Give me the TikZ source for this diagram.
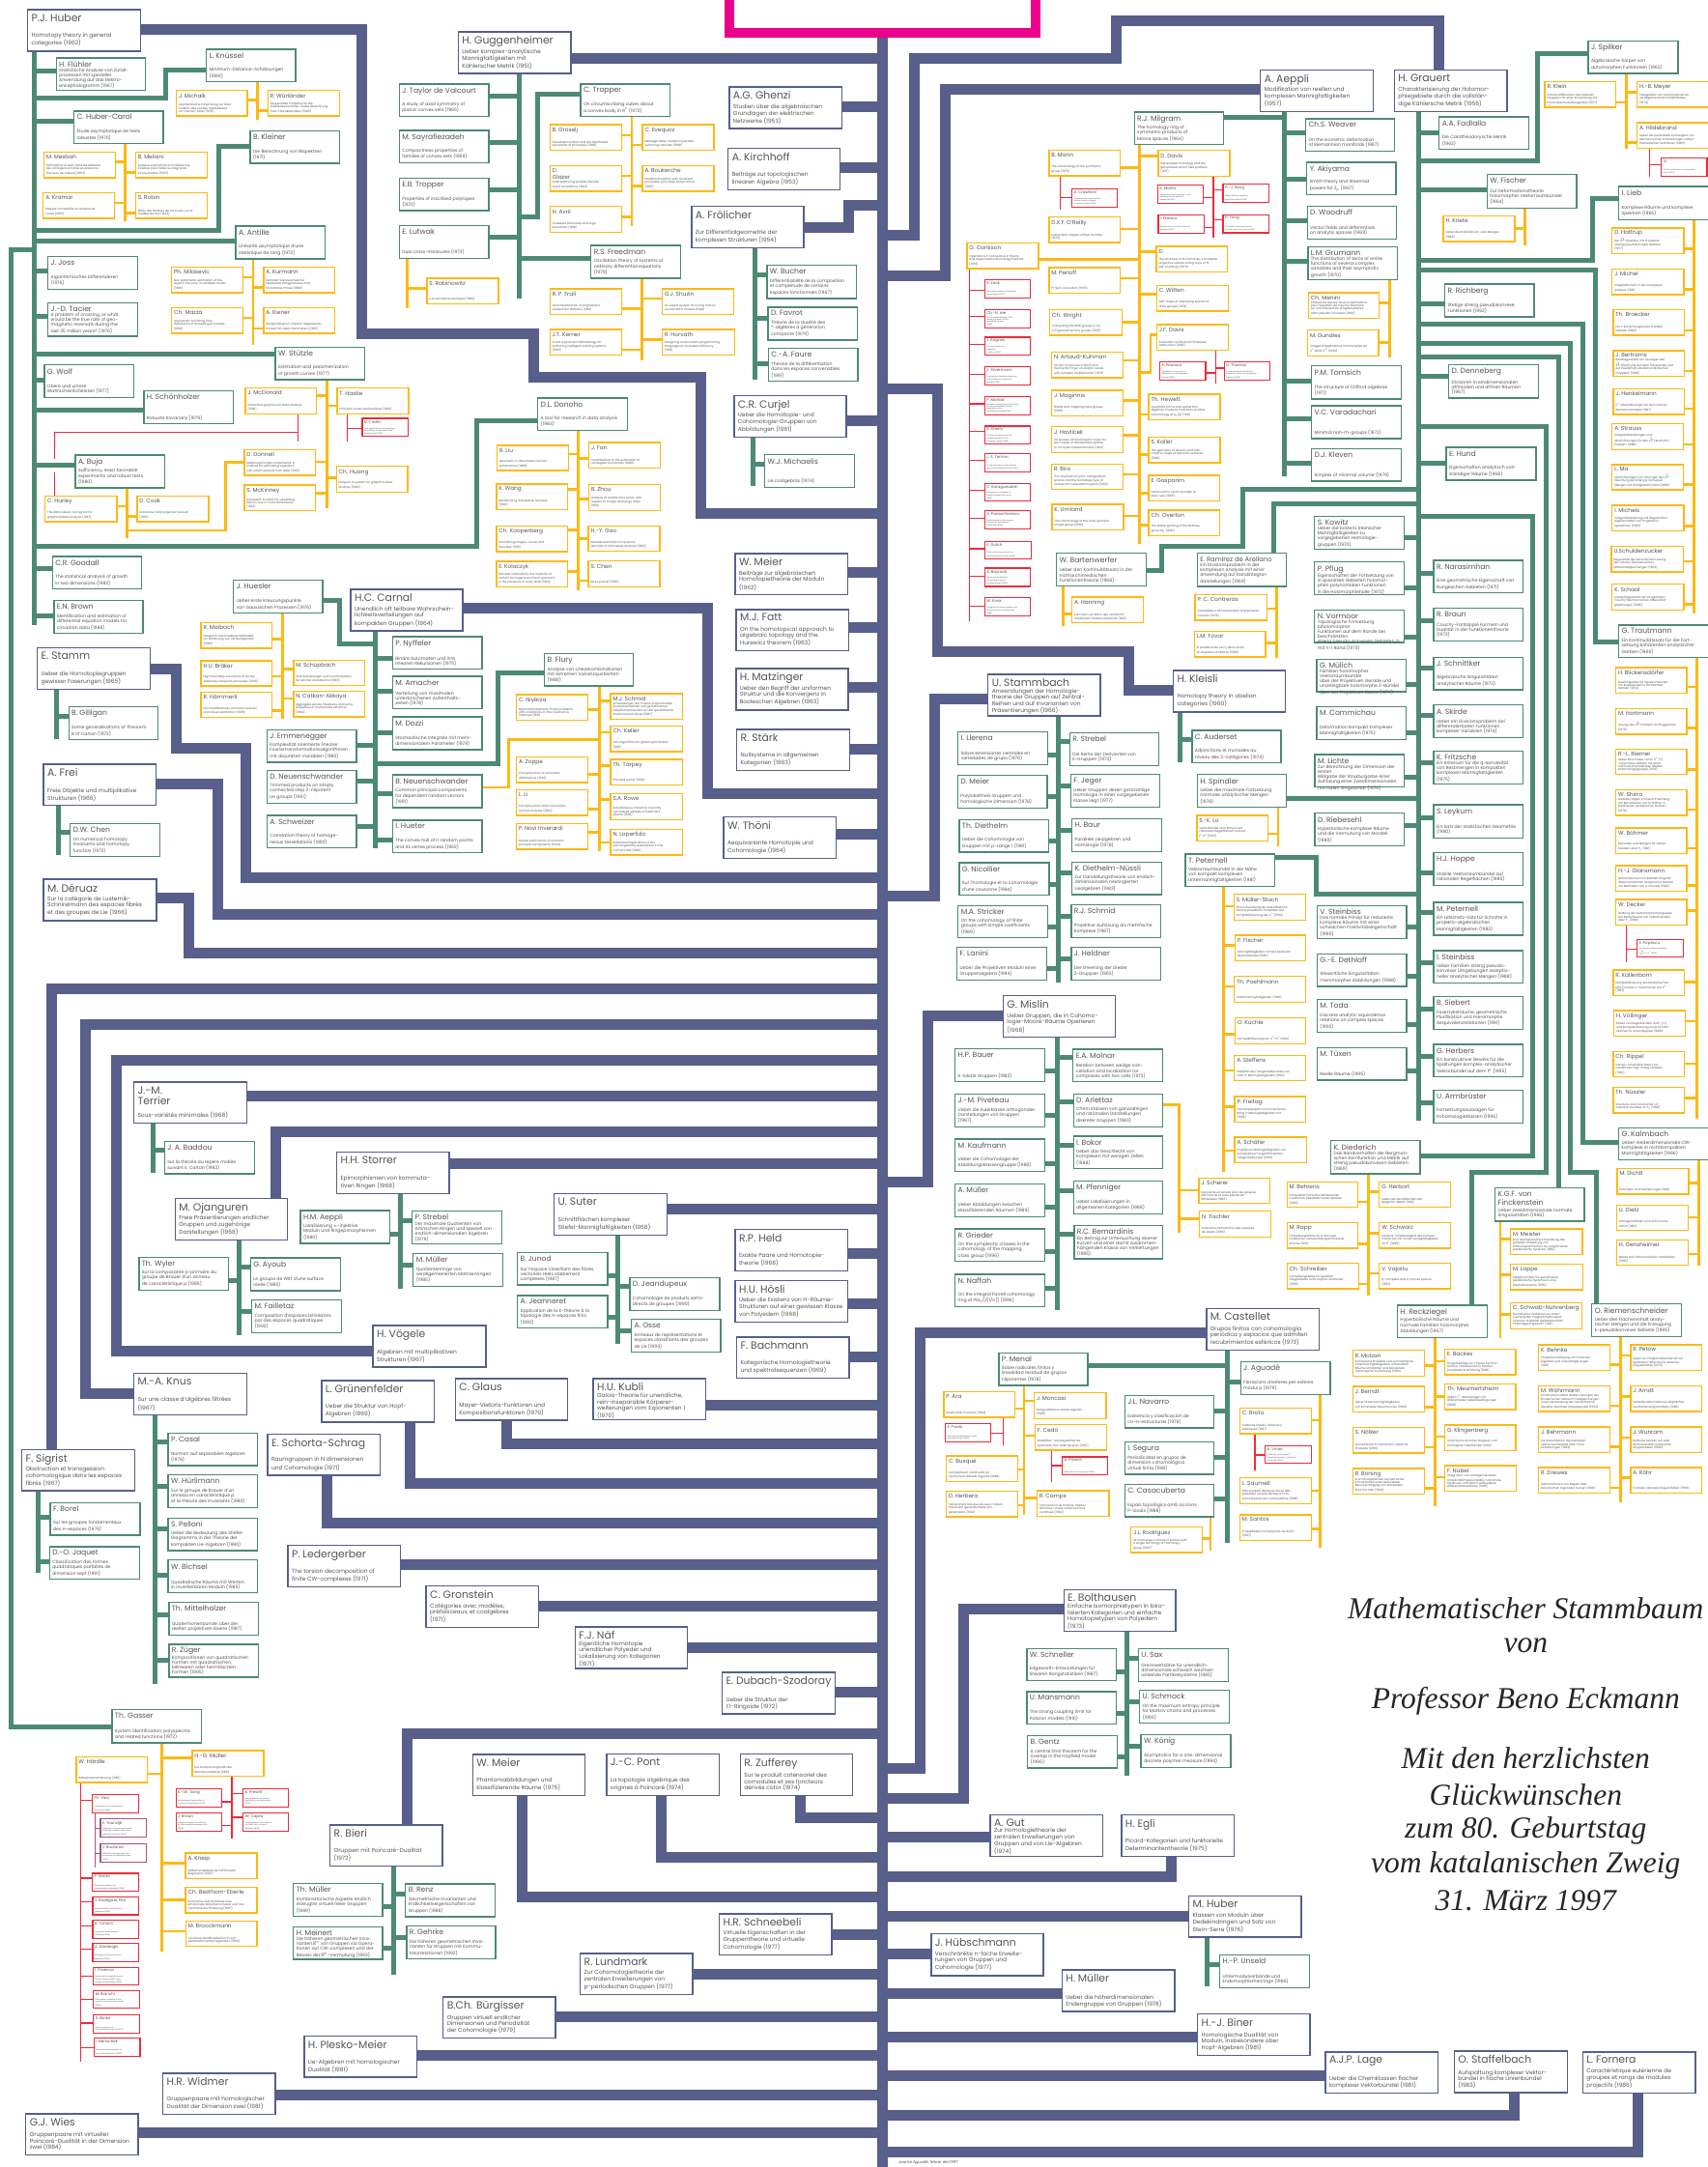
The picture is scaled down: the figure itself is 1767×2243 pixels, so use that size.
\documentclass[tikz,border=0pt]{standalone}
\usepackage{fontspec}
\setmainfont{Poppins}
\newfontfamily\scrf{Liberation Serif}
\usetikzlibrary{backgrounds}
\definecolor{cb}{HTML}{575F8A}
\definecolor{cg}{HTML}{4D8A73}
\definecolor{cy}{HTML}{FDB913}
\definecolor{cr}{HTML}{EE2B3B}
\definecolor{cm}{HTML}{EC008C}
\definecolor{cp}{HTML}{A8567F}
\definecolor{tx}{HTML}{555555}
\tikzset{
 boxbase/.style={rectangle,fill=white,inner sep=0pt,outer sep=0pt,text=tx,align=left},
 bb/.style={boxbase,draw=cb,line width=1.4pt},
 gb/.style={boxbase,draw=cg,line width=1.3pt},
 yb/.style={boxbase,draw=cy,line width=1.4pt},
 rb/.style={boxbase,draw=cr,line width=1.2pt},
 pb/.style={boxbase,draw=cp,line width=1.2pt},
 bl/.style={draw=cb,line width=11pt},
 gl/.style={draw=cg,line width=5pt},
 yl/.style={draw=cy,line width=2.6pt},
 rl/.style={draw=cr,line width=1.2pt},
 pl/.style={draw=cp,line width=1.2pt},
 ml/.style={draw=cm,line width=10.5pt},
 scriptline/.style={text=black!85,font=\scrf\itshape\fontsize{31.5}{34}\selectfont,inner sep=0pt}
}
\newenvironment{cpp}[4]{\begin{scope}[shift={(#1pt,-#2pt)},x=#3pt,y=-#4pt]\def\fx{#3}\def\fy{#4}}{\end{scope}}
\def\XA{.38265}\def\XC{.38074}\def\YA{.36352}\def\YD{.35906}
\newcommand\mk[8]{%
 \pgfmathsetmacro\wbx{(#5-#3)*\fx}%
 \pgfmathsetmacro\hbx{(#6-#4)*\fy}%
 \pgfmathsetmacro\wtx{\wbx-\pad}%
 \pgfmathsetmacro\htx{\hbx-\padv}%
 \node[#1,minimum width=\wbx pt,minimum height=\hbx pt] (#2) at ({(#3+#5)/2},{(#4+#6)/2}) {\begin{minipage}[c][\htx pt][t]{\wtx pt}\tfs\raggedright #7\par\vfill\bfs #8\end{minipage}};}
\newcommand\BX[7]{\def\tfs{\fontsize{10.8}{11.5}\selectfont}\def\bfs{\fontsize{5.9}{6.6}\selectfont}\def\pad{8}\def\padv{9}\mk{bb}{#1}{#2}{#3}{#4}{#5}{#6}{#7}}
\newcommand\GX[7]{\def\tfs{\fontsize{7.6}{8.4}\selectfont}\def\bfs{\fontsize{4.6}{5.1}\selectfont}\def\pad{6}\def\padv{7}\mk{gb}{#1}{#2}{#3}{#4}{#5}{#6}{#7}}
\newcommand\YX[7]{\def\tfs{\fontsize{5.8}{6.5}\selectfont}\def\bfs{\fontsize{3}{3.4}\selectfont}\def\pad{5}\def\padv{6}\mk{yb}{#1}{#2}{#3}{#4}{#5}{#6}{#7}}
\newcommand\RX[7]{\def\tfs{\fontsize{4}{4.6}\selectfont}\def\bfs{\fontsize{1.9}{2.2}\selectfont}\def\pad{4}\def\padv{4}\mk{rb}{#1}{#2}{#3}{#4}{#5}{#6}{#7}}
\newcommand\PX[7]{\def\tfs{\fontsize{4}{4.6}\selectfont}\def\bfs{\fontsize{1.9}{2.2}\selectfont}\def\pad{4}\def\padv{4}\mk{pb}{#1}{#2}{#3}{#4}{#5}{#6}{#7}}
\newcommand\cnn[4]{\draw[#1] (#2 |- 0,#4) -- (#3,#4);}
\newcommand\gc[3]{\cnn{gl}{#1}{#2}{#3}}
\newcommand\yc[3]{\cnn{yl}{#1}{#2}{#3}}
\newcommand\rc[3]{\cnn{rl}{#1}{#2}{#3}}
\newcommand\stm[4]{\draw[#1] (#2,#3) -- (#2,#4);}
\newcommand\trk[2]{\draw[bl] (#1 |- 0,#2) -- (913.4,#2);}
\begin{document}
\begin{tikzpicture}[x=1pt,y=-1pt]
\useasboundingbox (0,0) rectangle (1767,2243);
%%%%%%%%%%%%%%%%%%%%%% BOXES
\begin{cpp}{0}{0}{\XA}{\YA}
\BX{huber}{75}{28}{380}{146}{P.J. Huber}{Homotopy theory in general\\categories (1962)}
\BX{gugg}{1240}{91}{1545}{209}{H. Guggenheimer}{Ueber komplex-analytische\\Mannigfaltigkeiten mit\\Kählerscher Metrik (1951)}
\GX{fluehler}{152}{165}{393}{258}{H. Flühler}{Statistische Analyse von Zufall-\\prozessen mit spezieller\\Anwendung auf das Elektro-\\encephalogramm (1967)}
\GX{knuessel}{558}{140}{800}{233}{L. Knüssel}{Minimum-Distance-Schätzungen\\(1969)}
\GX{hubercarol}{200}{316}{442}{409}{C. Huber-Carol}{Étude asymptotique de tests\\robustes (1970)}
\GX{kleiner}{677}{372}{919}{465}{B. Kleiner}{Die Berechnung von Bispektren\\(1971)}
\GX{antille}{638}{644}{880}{737}{A. Antille}{Linéarité asymptotique d'une\\statistique de rang (1972)}
\GX{joss}{130}{730}{372}{823}{J. Joss}{Algorithmisches Differenzieren\\(1976)}
\GX{tacier}{130}{862}{372}{957}{J.-D. Tacier}{A problem of crossing, or what\\would be the true rate of geo-\\magnetic reversals during the\\last 35 million years? (1976)}
\GX{stuetzle}{745}{988}{986}{1081}{W. Stützle}{Estimation and parametrization\\of growth curves (1977)}
\GX{wolf}{120}{1039}{362}{1131}{G. Wolf}{Obere und untere\\Wahrscheinlichkeiten (1977)}
\GX{schoenh}{389}{1113}{631}{1207}{H. Schönholzer}{Robuste Kovarianz (1979)}
\GX{buja}{204}{1296}{446}{1389}{A. Buja}{Sufficiency, least favorable\\experiments and robust tests\\(1980)}
\GX{taylor}{1080}{239}{1322}{331}{J. Taylor de Valcourt}{A study of axial symmetry of\\planar convex sets (1965)}
\GX{sayraf}{1080}{371}{1322}{463}{M. Sayrafiezadeh}{Compactness properties of\\families of convex sets (1969)}
\GX{etropper}{1080}{507}{1322}{600}{E.B. Tropper}{Properties of inscribed polytopes\\(1972)}
\GX{lutwak}{1080}{642}{1322}{735}{E. Lutwak}{Dual cross-measures (1973)}
\YX{michalk}{477}{258}{669}{330}{J. Michalk}{Asymptotische Entwicklung zur Güte-\\funktion des zweiten Vierteldetest\\von Fischer-Yates (1976)}
\YX{wuerl}{725}{258}{918}{330}{R. Würländer}{Sequentielle Prüfpläne für die\\Zufallsüberkontrolle: Exakte Berechnung\\ihrer Charakteristiken (1989)}
\YX{mesbah}{119}{433}{312}{506}{M. Mesbah}{Estimations et tests dans les tableaux\\de contingence mixtes en présence\\d'erreurs de mesure (1993)}
\YX{meliani}{367}{433}{560}{506}{B. Meliani}{Analyse explicatoire et modèles log-\\linéaires pour l'aide au diagnostic\\en psychiatrie (1993)}
\YX{kramar}{117}{549}{310}{622}{A. Kramar}{Risques compétitifs en analyse de\\survie (1993)}
\YX{robin}{367}{549}{560}{622}{S. Robin}{Effets des facteurs de confusion sur le\\modèle de Cox (1993)}
\YX{milasevic}{464}{760}{657}{833}{Ph. Milasevic}{Non parametric estimation of the\\slope in the error in variables model\\(1986)}
\YX{kurmann}{713}{760}{906}{833}{A. Kurmann}{Zentraler Grenzwertsatz für\\lokalisierte Rangprozesse ohne\\monotones Prinzip (1986)}
\YX{mazza}{464}{876}{657}{949}{Ch. Mazza}{Asymptotic for hitting time\\distribution of annealing processes\\(1990)}
\YX{kiener}{713}{876}{906}{949}{A. Kiener}{Rangschätzer im linearen Regressions-\\modell mit vielen Parametern (1991)}
\YX{mcdonald}{664}{1105}{856}{1178}{J. McDonald}{Interactive graphics for data analysis\\(1982)}
\YX{hastie}{912}{1105}{1105}{1178}{T. Hastie}{Principal curves and surfaces (1984)}
\YX{donnell}{661}{1280}{854}{1353}{D. Donnell}{Additive principle components: A\\method for estimating equations\\with small variance from data (1987)}
\YX{mckinney}{661}{1381}{854}{1454}{S. McKinney}{Autopaint: A toolkit for visualizing\\data in four or more dimensions\\(1993)}
\YX{huang}{910}{1328}{1103}{1401}{Ch. Huang}{Penguin: A system for graphical data\\analysis (1992)}
\YX{hurley}{122}{1412}{316}{1485}{C. Hurley}{The data viewer: A program for\\graphical data analysis (1987)}
\YX{cook}{371}{1412}{564}{1485}{D. Cook}{Grand tour and projection pursuit\\(1993)}
\YX{rabinowitz}{1155}{792}{1348}{865}{S. Rabinowitz}{Convex lattice polytopes (1986)}
\RX{crellin}{980}{1191}{1105}{1243}{N. Crellin}{Tree-based spline and regression\\smoothing: an extended model\\selection tool (1992)}
\YX{liu}{1345}{1268}{1538}{1340}{R. Liu}{Geometry in robustness and non-\\parametrics (1988)}
\YX{wang}{1343}{1378}{1535}{1451}{K. Wang}{Bandlimiting and sparse recovery\\(1990)}
\YX{kooperberg}{1343}{1498}{1536}{1571}{Ch. Kooperberg}{Smoothing images, curves and\\densities (1991)}
\end{cpp}
\begin{cpp}{0}{560}{\XA}{\YA}
\YX{kolaczyk}{1343}{58}{1536}{131}{E. Kolaczyk}{Wavelet methods for the inversion of\\certain homogeneous linear operators\\in the presence of noisy data (1994)}
\GX{goodall}{142}{44}{383}{137}{C.R. Goodall}{The statistical analysis of growth\\in two dimensions (1983)}
\GX{brown}{146}{170}{387}{263}{E.N. Brown}{Identification and estimation of\\differential equation models for\\circadian data (1988)}
\BX{stamm}{101}{304}{406}{422}{E. Stamm}{Ueber die Homotopiegruppen\\gewisser Faserungen (1965)}
\BX{frei}{118}{635}{422}{753}{A. Frei}{Freie Objekte und multiplikative\\Strukturen (1966)}
\BX{deruaz}{118}{963}{423}{1081}{M. Déruaz}{Sur la catégorie de Lusternik-\\Schnirelmann des espaces fibrés\\et des groupes de Lie (1966)}
\GX{gilligan}{186}{472}{428}{566}{B. Gilligan}{Some generalisations of Theorem\\B of Cartan (1972)}
\GX{chen}{190}{804}{432}{898}{D.W. Chen}{On numerical homotopy\\invariants and homotopy\\functors (1972)}
\GX{huesler}{632}{112}{873}{205}{J. Huesler}{Ueber erste Kreuzungspunkte\\von Gaussschen Prozessen (1976)}
\BX{carnal}{949}{138}{1252}{256}{H.C. Carnal}{Unendlich oft teilbare Wahrschein-\\lichkeitsverteilungen auf\\kompakten Gruppen (1964)}
\GX{nyffeler}{1062}{272}{1304}{365}{P. Nyffeler}{Binäre Automaten und ihre\\linearen Rekursionen (1975)}
\GX{amacher}{1062}{385}{1304}{478}{M. Amacher}{Verteilung von maximalen\\unterbrochenen Aufenthalts-\\zeiten (1978)}
\GX{dozzi}{1062}{501}{1304}{594}{M. Dozzi}{Stochastische Integrale mit mehr-\\dimensionalem Parameter (1979)}
\GX{emmenegger}{722}{537}{964}{630}{J. Emmenegger}{Komplexität orientierte linearer\\Fouriertransformationsalgorithmen\\mit disjunkten Variablen (1980)}
\GX{dneuen}{722}{653}{964}{746}{D. Neuenschwander}{Trimmed products on simply\\connected step 2-nilpotent\\Lie groups (1991)}
\GX{schweizer}{722}{781}{964}{874}{A. Schweizer}{Correlation theory of homoge-\\neous tessellations (1992)}
\GX{bneuen}{1062}{666}{1304}{759}{B. Neuenschwander}{Common principal components\\for dependent random vectors\\(1991)}
\GX{hueter}{1062}{795}{1304}{888}{I. Hueter}{The convex hull of n random points\\and its vertex process (1992)}
\YX{maibach}{544}{232}{736}{305}{R. Maibach}{Vergleich verschiedener Methoden\\zur Schätzung von Verlaufsgrenzen\\(1985)}
\YX{braeker}{544}{341}{736}{413}{H.U. Bräker}{High boundary excursions of locally\\stationary Gaussian processes (1993)}
\YX{haemmerli}{544}{430}{736}{502}{R. Hämmerli}{On the differences of local processes\\and robust estimation (1996)}
\YX{schuepbach}{794}{339}{986}{411}{M. Schüpbach}{Grenzverteilungen und Funktionszeiten\\für Minima und Maxima (1986)}
\YX{catkan}{794}{428}{986}{501}{N. Catkan-Akkaya}{Aggregate excess measures and some\\properties of multivariate extremes\\(1994)}
\end{cpp}
\begin{cpp}{0}{1120}{\XA}{\YA}
\BX{terrier}{362}{0}{667}{117}{J.-M.\\Terrier}{Sous-variétés minimales (1968)}
\BX{knus}{362}{830}{667}{948}{M.-A. Knus}{Sur une classe d'algèbres filtrées\\(1967)}
\GX{casal}{455}{999}{697}{1092}{P. Casal}{Normen auf separablen Algebren\\(1979)}
\GX{huerlimann}{455}{1118}{697}{1211}{W. Hürlimann}{Sur le groupe de Brauer d'un\\anneau en caractéristique p\\et la théorie des invariants (1980)}
\GX{pelloni}{455}{1241}{697}{1334}{S. Pelloni}{Ueber die Bedeutung des Stiefel-\\Diagramms in der Theorie der\\kompakten Lie-Algebren (1980)}
\GX{bichsel}{455}{1361}{697}{1454}{W. Bichsel}{Quadratische Räume mit Werten\\in invertierbaren Moduln (1985)}
\GX{mittelholzer}{457}{1481}{699}{1575}{Th. Mittelholzer}{Quaternionenbündel über der\\reellen projektiven Ebene (1987)}
\BX{sigrist}{59}{1047}{364}{1164}{F. Sigrist}{Obstruction et transgession\\cohomologique dans les espaces\\fibrés (1967)}
\GX{borel}{136}{1197}{379}{1290}{F. Borel}{Sur les groupes fondamentaux\\des H-espaces (1976)}
\GX{jaquet}{134}{1323}{377}{1416}{D.-O. Jaquet}{Classification des formes\\quadratiques parfaites de\\dimension sept (1991)}
\GX{baddou}{445}{169}{688}{261}{J. A. Baddou}{Sur la théorie du repère mobile\\suivant E. Cartan (1982)}
\BX{ojanguren}{474}{332}{778}{449}{M. Ojanguren}{Freie Präsentierungen endlicher\\Gruppen und zugehörige\\Darstellungen (1968)}
\GX{wyler}{376}{499}{618}{592}{Th. Wyler}{Sur la composante p-primaire du\\groupe de Brauer d'un anneau\\de caractéristique p (1985)}
\GX{ayoub}{678}{501}{921}{594}{G. Ayoub}{Le groupe de Witt d'une surface\\réelle (1985)}
\GX{failletaz}{681}{620}{923}{713}{M. Failletaz}{Composition d'espaces bilinéaires\\par des espaces quadratiques\\(1992)}
\BX{storrer}{911}{199}{1215}{317}{H.H. Storrer}{Epimorphismen von kommuta-\\tiven Ringen (1968)}
\GX{haeppli}{813}{366}{1055}{459}{H.M. Aeppli}{Lokalisierung $\kappa$-injektive\\Moduln und Ringepimorphismen\\(1980)}
\GX{pstrebel}{1115}{368}{1357}{461}{P. Strebel}{Der maximale Quotienten von\\Artinschen Ringen und speziell von\\endlich-dimensionalen Algebren\\(1979)}
\GX{mmueller}{1118}{488}{1360}{581}{M. Müller}{Quotientenringe von\\verallgemeinerten Matrizenringen\\(1985)}
\BX{voegele}{1009}{693}{1314}{811}{H. Vögele}{Algebren mit multiplikativen\\Strukturen (1967)}
\BX{gruenenfelder}{870}{850}{1174}{968}{L. Grünenfelder}{Ueber die Struktur von Hopf-\\Algebren (1969)}
\BX{glaus}{1232}{845}{1536}{963}{C. Glaus}{Mayer-Vietoris-Funktoren und\\Kompositionsfunktoren (1970)}
\BX{schorta}{724}{1003}{1028}{1120}{E. Schorta-Schrag}{Raumgruppen in N dimensionen\\und Cohomologie (1971)}
\BX{ledergerber}{779}{1319}{1084}{1437}{P. Ledergerber}{The torsion decomposition of\\finite CW-complexes (1971)}
\BX{gronstein}{1153}{1435}{1457}{1553}{C. Gronstein}{Catégories avec modèles,\\préfaisceaux, et coalgèbres\\(1971)}
\end{cpp}
\begin{cpp}{0}{1680}{\XA}{\YD}
\GX{zueger}{457}{61}{699}{156}{R. Züger}{Kompositionen von quadratischen\\Formen mit quadratischen,\\bilinearen oder hermitischen\\Formen (1995)}
\GX{gasser}{303}{250}{544}{345}{Th. Gasser}{System identification, polyspectra\\and related functions (1972)}
\YX{haerdle}{206}{385}{399}{459}{W. Härdle}{Robust Kernschätzung (1982)}
\YX{hgmueller}{520}{368}{713}{442}{H.-G. Müller}{Die Analyse longitudinaler\\Wachstumsdaten (1981)}
\YX{kneip}{502}{663}{695}{737}{A. Kneip}{Selbstmodellierende nichtlineare\\Regression (1987)}
\YX{besthorn}{502}{761}{695}{835}{Ch. Besthorn-Eberle}{Autonome und zentralnervöse\\emotionale Aktivationsmuster und ihre\\mechanische Erfassung (1990)}
\YX{broeckmann}{503}{859}{695}{932}{M. Broockmann}{Local bandwidth selection in non-\\parametric kernel regression (1993)}
\RX{vieu}{249}{495}{374}{547}{Ph. Vieu}{A contribution to nonparametric\\functionals (1989)}
\RX{sarda}{250}{721}{374}{773}{P. Sarda}{Bandwidth selection for\\nonparametric estimation (1989)}
\RX{rodriguezpoo}{251}{789}{375}{841}{J. Rodríguez Poo}{Semiparametric estimation of\\regression (1990)}
\RX{turlach}{251}{857}{375}{909}{B. Turlach}{Computer-aided additive\\modeling (1994)}
\RX{dasdoigis}{251}{924}{375}{976}{A. Dasdoigis}{Changes in the wind-bounce\\detection (1994)}
\RX{proenca}{252}{992}{376}{1044}{I. Proenca}{Testing the link specification in\\binary choice models: large\\sample and bootstrap (1994)}
\RX{bianchi}{253}{1059}{377}{1110}{M. Bianchi}{Time series modelling in the\\presence of structural change\\(1995)}
\RX{klinke}{253}{1130}{377}{1182}{S. Klinke}{Data structures and\\computational analysis (1995)}
\RX{bertschek}{255}{1197}{379}{1249}{I. Bertschek}{Semiparametric analysis of\\innovative behaviour (1995)}
\PX{youndje}{272}{565}{396}{617}{E. Youndjé}{Estimation non paramétrique de\\la densité conditionnelle par la\\méthode du noyau (1993)}
\PX{boularan}{272}{637}{396}{689}{J. Boularan}{Estimation de régression, des\\moyennes non paramétriques\\(1993)}
\RX{kssong}{476}{478}{600}{530}{K.-Sh. Song}{Nonparametric estimation of\\curves and boundaries (1993)}
\RX{pfewitt}{658}{478}{781}{530}{K. Prewitt}{Nonparametric stochastic\\regression curve estimation\\(1990)}
\RX{jbraun}{476}{547}{600}{600}{J. Braun}{Multiple changepoint methods\\for DNA sequence segmentation\\(1996)}
\RX{capra}{658}{547}{781}{600}{W. Capra}{Nonparametric estimation of\\mortality from curves of\\densities (1993)}
\BX{bieri}{893}{582}{1197}{700}{R. Bieri}{Gruppen mit Poincaré-Dualität\\(1972)}
\GX{tmueller}{794}{751}{1035}{845}{Th. Müller}{Kombinatorische Aspekte endlich\\erzeugter virtuell freier Gruppen\\(1989)}
\GX{renz}{1097}{752}{1339}{847}{B. Renz}{Geometrische Invarianten und\\Endlichkeitseigenschaften von\\Gruppen (1988)}
\GX{meinert}{794}{875}{1035}{969}{H. Meinert}{Die höheren geometrischen Inva-\\rianten Σ\textsuperscript{m} von Gruppen via Opera-\\tionen auf CW-complexen und der\\Beweis der Σ\textsuperscript{m}-Vermutung (1993)}
\GX{gehrke}{1100}{874}{1341}{968}{R. Gehrke}{Die höheren geometrischen Inva-\\rianten für Gruppen mit Kommu-\\tatorrelationen (1992)}
\BX{bmeier}{1279}{379}{1583}{497}{W. Meier}{Phantomabbildungen und\\klassifizierende Räume (1975)}
\BX{buergisser}{1199}{1078}{1503}{1196}{B.Ch. Bürgisser}{Gruppen virtuell endlicher\\Dimensionen und Periodizität\\der Cohomologie (1979)}
\BX{plesko}{823}{1191}{1127}{1309}{H. Plesko-Meier}{Lie-Algebren mit homologischer\\Dualität (1981)}
\BX{widmer}{441}{1298}{745}{1416}{H.R. Widmer}{Gruppenpaare mit homologischer\\Dualität der Dimension zwei (1981)}
\BX{wies}{70}{1415}{374}{1533}{G.J. Wies}{Gruppenpaare mit virtueller\\Poincaré-Dualität in der Dimension\\zwei (1984)}
\end{cpp}
\begin{cpp}{590}{0}{\XA}{\YA}
\BX{ghenzi}{431}{248}{735}{366}{A.G. Ghenzi}{Studien über die algebraischen\\Grundlagen der elektrischen\\Netzwerke (1953)}
\BX{kirchhoff}{428}{422}{731}{540}{A. Kirchhoff}{Beiträge zur topologischen\\linearen Algebra (1953)}
\BX{froelicher}{329}{587}{632}{705}{A. Frölicher}{Zur Differentialgeometrie der\\komplexen Strukturen (1954)}
\BX{curjel}{444}{1126}{747}{1244}{C.R. Curjel}{Ueber die Homotopie- und\\Cohomologie-Gruppen von\\Abbildungen (1961)}
\GX{bucher}{533}{756}{775}{850}{W. Bucher}{Différentiabilité de la composition\\et complétude de certains\\espaces fonctionnels (1967)}
\GX{favrot}{536}{875}{778}{968}{D. Favrot}{Théorie de la dualité des\\{}*-algèbres à génération\\compacte (1979)}
\GX{faure}{537}{992}{779}{1085}{C.-A. Faure}{Théorie de la différentiation\\dans les espaces convenables\\(1991)}
\GX{michaelis}{527}{1295}{769}{1388}{W.J. Michaelis}{Lie coalgebras (1974)}
\GX{tropper}{29}{239}{271}{332}{C. Tropper}{On circumscribing cubes about\\a convex body in R\textsuperscript{n} (1972)}
\GX{freedman}{57}{699}{299}{792}{R.S. Freedman}{Oscillation theory of systems of\\ordinary differential equations\\(1979)}
\YX{grosejl}{-54}{355}{140}{428}{B. Groselj}{Pseudostimulation and the distributed\\simulation of processes (1988)}
\YX{glazer}{-54}{472}{140}{545}{D.\\Glazer}{Load balancing parallel discrete\\event simulations (1993)}
\YX{avril}{-54}{588}{140}{661}{H. Avril}{Clustered time warp and logic\\simulation (1996)}
\YX{evequoz}{196}{355}{389}{428}{C. Evequoz}{Message delay models of parallel\\switching networks (1989)}
\YX{boukerche}{196}{472}{389}{545}{A. Boukerche}{Parallel simulation with clustered\\processes: principles and practice\\(1995)}
\YX{frail}{-54}{822}{140}{895}{R. P. Frail}{Text classification in fragmented\\subdomain domains (1991)}
\YX{shuzin}{250}{822}{443}{895}{G.J. Shuzin}{An expert system for tuning macro-\\econometric models (1988)}
\YX{kerner}{-54}{938}{140}{1011}{J.T. Kerner}{A tool supported methodology for\\authoring intelligent tutoring systems\\(1993)}
\YX{horvath}{250}{938}{445}{1011}{R. Horvath}{Designing a concurrent programming\\language for increased efficiency\\(1991)}
\GX{donoho}{-87}{1133}{155}{1225}{D.L. Donoho}{A tool for research in data analysis\\(1983)}
\YX{fan}{51}{1260}{244}{1333}{J. Fan}{Contributions to the estimation of\\nonregular functionals (1989)}
\YX{zhou}{51}{1380}{244}{1453}{B. Zhou}{Analysis of volatile time series, with\\respect to foreign exchange rates\\(1991)}
\YX{gao}{50}{1497}{243}{1570}{H.-Y. Gao}{Wavelet estimation of spectral\\densities in time series analysis (1993)}
\YX{carlsson}{1074}{692}{1267}{765}{G. Carlsson}{Operations in connective K-theory\\and associated cohomology theories\\(1976)}
\YX{mann}{1296}{428}{1489}{501}{B. Mann}{The cohomology of the symmetric\\group (1975)}
\YX{oreilly}{1296}{618}{1489}{691}{D.X.F. O'Reilly}{Cobordism classes of fiber bundles\\(1976)}
\YX{perloff}{1296}{762}{1489}{835}{M. Perloff}{Pi-Spin cobordism (1976)}
\YX{wright}{1298}{882}{1493}{955}{Ch. Wright}{Computing the Wall groups Ln for\\2-hyperelementary groups (1979)}
\YX{artaud}{1303}{1003}{1496}{1076}{N. Artaud-Kuhman}{On the conjecture of Birch and\\Swinnerton-Dyer on elliptic curves\\with complex multiplication (1979)}
\YX{maginnis}{1303}{1111}{1496}{1184}{J. Maginnis}{Braids and mapping class groups\\(1986)}
\YX{havlicek}{1303}{1215}{1496}{1288}{J. Havlicek}{On spaces of holomorphic maps for\\two copies of the Riemann sphere\\to complex Grassmannians (1992)}
\YX{biro}{1303}{1321}{1496}{1394}{R. Biro}{The structure of cyclic configuration\\spaces and the homotopy type of\\Kontsevich's orientation space (1994)}
\YX{umland}{1304}{1436}{1497}{1509}{K. Umland}{The cohomology of the Lions sporadic\\simple group (1996)}
\RX{crawford}{1358}{537}{1481}{589}{A. Crawford}{Characteristic maps and the\\Steinitz class in complex\\projective spaces (1993)}
\RX{zack}{1122}{797}{1245}{848}{R. Zack}{Homotopy analysis of stochastic\\technologies (1977)}
\RX{lee}{1122}{882}{1245}{933}{Ch.-N. Lee}{On the stable splitting of the\\classifying space of the\\symplectic groups\\(1989)}
\RX{rognes}{1122}{960}{1245}{1012}{J. Rognes}{The rank filtration in\\algebraic\\K-theory (1990)}
\RX{silvermann}{1122}{1045}{1245}{1097}{J. Silvermann}{Conjugates of certain subgroups\\acting freely on products of\\spheres (1991)}
\RX{morlad}{1122}{1129}{1245}{1181}{P. Morlad}{Bounded cohomology of the braid\\group and the Milnor-Wood\\inequality for the\\Heisenberg manifold (1991)}
\RX{sherry}{1122}{1213}{1245}{1265}{R. Sherry}{A study of invariants for the\\classifying space of the\\symmetric group (1992)}
\RX{tanton}{1122}{1292}{1245}{1343}{J. S. Tanton}{On the homotopy of generalized\\groups and Grassmannians (1993)}
\RX{karagueuzian}{1122}{1376}{1245}{1427}{D. Karagueuzian}{Homology of complexes of\\algebraic graph structures\\(1993)}
\RX{paraschivescu}{1122}{1454}{1245}{1505}{A. Paraschivescu}{Finite handles for the second\\fixed group with integral\\coefficients (1996)}
\end{cpp}
\begin{cpp}{590}{560}{\XA}{\YA}
\YX{schen}{50}{57}{243}{130}{S. Chen}{Basis pursuit (1995)}
\GX{flury}{-69}{320}{172}{413}{B. Flury}{Analyse von Linearkombinationen\\mit extremen Varianzquotienten\\(1980)}
\YX{niyikiza}{-145}{437}{48}{510}{C. Niyikiza}{Multivariate Behrens-Fisher problems\\with constraints on the covariance\\matrices (1991)}
\YX{zoppe}{-145}{615}{48}{688}{A. Zoppe}{Principal points of univariate\\distributions (1992)}
\YX{lli}{-145}{708}{48}{781}{L. Li}{Principal points and multivariate\\normal mixtures (1994)}
\YX{novi}{-145}{804}{48}{877}{P. Novi Inverardi}{Robust estimations of common\\principal components (1994)}
\YX{schmid}{110}{435}{304}{508}{M.J. Schmid}{Anwendungen der Theorie proportionaler\\Kovarianzmatrizen und gemeinsamer\\Hauptkomponenten auf die quadratische\\Diskriminanzanalyse (1987)}
\YX{keller}{110}{527}{304}{600}{Ch. Keller}{Two algorithms for global optimization\\(1991)}
\YX{tarpey}{110}{622}{304}{695}{Th. Tarpey}{Principal points (1992)}
\YX{rowe}{110}{720}{304}{793}{S.A. Rowe}{Simultaneous inference on jointly\\considered subsets of treatment\\effects (1993)}
\YX{loperfido}{110}{821}{304}{894}{N. Loperfido}{Inferential implications of the\\exchangeability assumption in the\\normal case (1996)}
\BX{wmeier}{447}{36}{751}{153}{W. Meier}{Beiträge zur algebraischen\\Homotopietheorie der Moduln\\(1962)}
\BX{fatt}{450}{195}{754}{312}{M.J. Fatt}{On the homotopical approach to\\algebraic topology and the\\Hurewicz theorem (1963)}
\BX{matzinger}{449}{363}{753}{481}{H. Matzinger}{Ueber den Begriff der uniformen\\Struktur und die Konvergenz in\\Booleschen Algebren (1963)}
\BX{staerk}{451}{536}{756}{654}{R. Stärk}{Nullsysteme in allgemeinen\\Kategorien (1963)}
\BX{thoeni}{416}{785}{720}{903}{W. Thöni}{Aequivariante Homotopie und\\Cohomologie (1964)}
\BX{stammbach}{1131}{380}{1435}{498}{U. Stammbach}{Anwendungen der Homologie-\\theorie der Gruppen auf Zentral-\\Reihen und auf Invarianten von\\Präsentierungen (1966)}
\BX{mislin}{1172}{1295}{1476}{1413}{G. Mislin}{Ueber Gruppen, die in Cohomo-\\logie-Moore-Räume Operieren\\(1968)}
\GX{llerena}{1050}{544}{1293}{636}{I. Llerena}{Sobre extensiones centrales en\\variedades de grupo (1976)}
\GX{dmeier}{1049}{667}{1291}{760}{D. Meier}{Polylokaltheis Gruppen und\\homologische Dimension (1978)}
\GX{diethelm}{1053}{793}{1295}{886}{Th. Diethelm}{Ueber die Cohomologie von\\Gruppen mit p-Länge 1 (1981)}
\GX{nicollier}{1053}{916}{1296}{1009}{G. Nicollier}{Sur l'homologie et la cohomologie\\d'une couronne (1984)}
\GX{stricker}{1050}{1038}{1293}{1130}{M.A. Stricker}{On the cohomology of finite\\groups with simple coefficients\\(1989)}
\GX{lanini}{1047}{1157}{1289}{1250}{F. Lanini}{Ueber die Projektiven Moduln einer\\Gruppenalgebra (1994)}
\GX{strebel}{1352}{546}{1593}{639}{R. Strebel}{Die Reihe der Derivierten von\\E-Gruppen (1973)}
\GX{jeger}{1355}{665}{1596}{758}{F. Jeger}{Ueber Gruppen deren ganzzahlige\\Homologie in einer vorgegebenen\\Klasse liegt (1977)}
\GX{baur}{1358}{791}{1600}{884}{H. Baur}{Parallele Liealgebren und\\Homologie (1978)}
\GX{dnuessli}{1358}{914}{1600}{1007}{K. Diethelm-Nüssli}{Zur Darstellungstheorie von endlich-\\dimensionalen nestinglerten\\Liealgebren (1983)}
\GX{schmidb}{1356}{1036}{1598}{1129}{R.J. Schmid}{Projektive Auflösung als mehrfache\\Komplexe (1987)}
\GX{heldner}{1356}{1157}{1598}{1250}{J. Heldner}{Der Greening der Dieder\\2-Gruppen (1993)}
\GX{bartenwerfer}{1316}{35}{1558}{128}{W. Bartenwerfer}{Ueber den Kontinuitätssatz in der\\nichtarchimedischen\\Funktionentheorie (1968)}
\YX{hanning}{1358}{160}{1551}{233}{A. Hanning}{Zum Satz von Bär in der nichtarchi-\\medischen Funktionentheorie (1981)}
\RX{dutch}{1122}{1}{1247}{51}{K. Dutch}{Relative homotopy theory, an\\equivariant point of view (1994)}
\RX{bayrooti}{1122}{77}{1245}{129}{A. Bayrooti}{Ideals and quotients of\\cohomology rings of\\solvable groups (1996)}
\RX{kook}{1122}{162}{1245}{214}{W. Kook}{Categories of acyclic graphs and\\automorphisms of free groups\\(1996)}
\GX{bauer}{1042}{1446}{1285}{1540}{H.P. Bauer}{K-lokale Gruppen (1982)}
\GX{molnar}{1361}{1447}{1603}{1540}{E.A. Molnar}{Relation between wedge can-\\cellation and localization for\\complexes with two cells (1972)}
\end{cpp}
\begin{cpp}{590}{1120}{\XA}{\YA}
\BX{suter}{-43}{318}{262}{436}{U. Suter}{Schnittflächen komplexer\\Stiefel-Mannigfaltigkeiten (1968)}
\GX{junod}{-142}{485}{102}{578}{B. Junod}{Sur l'espace classifiant des fibrés\\vectoriels réels stablement\\complexes (1987)}
\GX{jeanneret}{-142}{608}{102}{701}{A. Jeanneret}{Application de la K-théorie à la\\topologie des H-espaces finis\\(1992)}
\GX{jeandupeux}{162}{557}{405}{650}{D. Jeandupeux}{Cohomologie de produits semi-\\directs de groupes (1990)}
\GX{osse}{166}{676}{408}{769}{A. Osse}{Anneaux de représentations et\\espaces classifiants des groupes\\de Lie (1994)}
\BX{held}{447}{420}{751}{538}{R.P. Held}{Exakte Paare und Homotopie-\\theorie (1968)}
\BX{hoesli}{447}{566}{751}{684}{H.U. Hösli}{Ueber die Existenz von H-Räume-\\Strukturen auf einer gewissen Klasse\\von Polyedern (1968)}
\BX{bachmann}{451}{726}{755}{843}{F. Bachmann}{Kategorische Homologietheorie\\und spektralsequenzen (1969)}
\BX{kubli}{63}{845}{367}{962}{H.U. Kubli}{Galois-Theorie für unendliche,\\rein-inseparable Körperer-\\weiterungen vom Exponenten 1\\(1970)}
\GX{menal}{1160}{771}{1401}{864}{P. Menal}{Sobre radicales finitos y\\linealidad residual de grupos\\nilpotentes (1978)}
\YX{ara}{1011}{882}{1204}{955}{P. Ara}{Anells amb involució (1984)}
\YX{moncasi}{1256}{885}{1450}{958}{J. Moncasi}{Rang estable en anells regulars\\(1985)}
\YX{cedo}{1258}{975}{1451}{1048}{F. Cedó}{Estabilitat i rectangularitat de\\quocients d'un anell de grup (1987)}
\YX{busque}{1018}{1065}{1211}{1138}{C. Busqué}{Completitud i continuïtat en\\l'estructura d'anells regulars (1988)}
\YX{camps}{1264}{1164}{1458}{1237}{R. Camps}{Cancel·lació de mòduls: Mòduls\\artinians i anells sobre funcions\\contínues (1992)}
\YX{herbera}{1018}{1165}{1211}{1238}{D. Herbera}{Sobre anells tals que els seus mòduls\\finitament generats fidels són\\generadors (1992)}
\RX{pardo}{1016}{973}{1139}{1024}{E. Pardo}{Monoides de refinament i anells\\de dimensió zero (1995)}
\RX{pitarch}{1332}{1067}{1455}{1118}{A. Pitarch}{Anells de funcions enteres (1996)}
\BX{bolthausen}{1336}{1445}{1639}{1563}{E. Bolthausen}{Einfache Isomorphietypen in loka-\\lisierten Kategorien und einfache\\Homotopietypen von Polyedern\\(1973)}
\GX{piveteau}{1042}{34}{1285}{127}{J.-M. Piveteau}{Ueber die Eulerklasse orthogonaler\\Darstellungen von Gruppen\\(1987)}
\GX{kaufmann}{1042}{162}{1285}{255}{M. Kaufmann}{Ueber die Cohomologie der\\Abbildungsklassengruppe (1988)}
\GX{amueller}{1042}{290}{1285}{383}{A. Müller}{Ueber Abbildungen zwischen\\klassifizierenden Räumen (1989)}
\GX{grieder}{1042}{418}{1285}{511}{R. Grieder}{On the symplectic classes in the\\cohomology of the mapping\\class group (1996)}
\GX{naffah}{1042}{547}{1285}{640}{N. Naffah}{On the integral Farrell cohomology\\ring of PSL\textsubscript{2}(Z[1/n]) (1996)}
\GX{arlettaz}{1362}{34}{1604}{127}{D. Arlettaz}{Chern Klassen von ganzzahligen\\und rationalen Darstellungen\\diskreter Gruppen (1983)}
\GX{bokor}{1362}{154}{1604}{247}{I. Bokor}{Ueber das Geschlecht von\\Komplexen mit wenigen Zellen\\(1988)}
\GX{pfenniger}{1362}{282}{1604}{375}{M. Pfenniger}{Ueber Lokalisierungen in\\allgemeinen Kategorien (1988)}
\GX{bernardinis}{1364}{409}{1604}{503}{R.C. Bernardinis}{Ein Beitrag zur Untersuchung ebener\\Kurven und einer damit zusammen-\\hängenden Klasse von Verkettungen\\(1995)}
\end{cpp}
\begin{cpp}{590}{1680}{\XA}{\YD}
\BX{naef}{14}{11}{318}{131}{F.J. Näf}{Eigentliche Homotopie\\unendlicher Polyeder und\\Lokalisierung von Kategorien\\(1971)}
\BX{dubach}{412}{142}{717}{262}{E. Dubach-Szodoray}{Ueber die Struktur der\\$\Omega$-Ringoide (1972)}
\BX{pont}{99}{378}{403}{497}{J.-C. Pont}{La topologie algébrique des\\origines à Poincaré (1974)}
\BX{zufferey}{461}{378}{765}{497}{R. Zufferey}{Sur le produit cotensoriel des\\comodules et ses foncteurs\\dérivés cotor (1974)}
\BX{schneebeli}{404}{838}{708}{957}{H.R. Schneebeli}{Virtuelle Eigenschaften in der\\Gruppentheorie und virtuelle\\Cohomologie (1977)}
\BX{lundmark}{28}{952}{332}{1071}{R. Lundmark}{Zur Cohomologietheorie der\\zentralen Erweiterungen von\\p-periodischen Gruppen (1977)}
\BX{gut}{1137}{552}{1441}{672}{A. Gut}{Zur Homologietheorie der\\zentralen Erweiterungen von\\Gruppen und von Lie-Algebren\\(1974)}
\BX{huebschmann}{977}{896}{1281}{1016}{J. Hübschmann}{Verschränkte n-fache Erweite-\\rungen von Gruppen und\\Cohomologie (1977)}
\BX{hmueller}{1331}{1000}{1636}{1120}{H. Müller}{Ueber die höherdimensionalen\\Endengruppe von Gruppen (1978)}
\GX{schneller}{1236}{73}{1478}{166}{W. Schneller}{Edgeworth-Entwicklungen für\\linearen Rangstatistiken (1987)}
\GX{mansmann}{1236}{198}{1478}{291}{U. Mansmann}{The strong coupling limit for\\Polaron models (1991)}
\GX{gentz}{1238}{324}{1480}{418}{B. Gentz}{A central limit theorem for the\\overlap in the Hopfield model\\(1996)}
\node[text=tx,font=\fontsize{4}{4.5}\selectfont,inner sep=0pt,anchor=west] (jaume) at (888,1555) {Jaume Aguadé, febrer del 1997};
\end{cpp}
\begin{cpp}{1170}{0}{\XC}{\YA}
\BX{aeppli}{354}{199}{660}{317}{A. Aeppli}{Modifikation von reellen und\\komplexen Mannigfaltigkeiten\\(1957)}
\BX{grauert}{718}{199}{1024}{317}{H. Grauert}{Charakterisierung der Holomor-\\phiegebiete durch die vollstän-\\dige Kählersche Metrik (1956)}
\GX{milgram}{11}{319}{254}{412}{R.J. Milgram}{The homology ring of\\symmetric products of\\Moore spaces (1964)}
\GX{weaver}{477}{338}{719}{430}{Ch.S. Weaver}{On the isometric deformation\\of Riemannian manifolds (1967)}
\GX{akiyama}{480}{462}{722}{554}{Y. Akiyama}{Smith theory and Steenrod\\powers for Z\textsubscript{p} (1967)}
\GX{woodruff}{481}{587}{724}{680}{D. Woodruff}{Vector fields and differentials\\on analytic spaces (1969)}
\GX{grumann}{483}{703}{726}{796}{L.M. Grumann}{The distribution of zeros of entire\\functions of several complex\\variables and their asymptotic\\growth (1970)}
\GX{tomsich}{493}{1042}{736}{1136}{P.M. Tomsich}{The structure of Clifford algebras\\(1971)}
\GX{varadachari}{493}{1155}{736}{1249}{V.C. Varadachari}{Minimal non-m-groups (1972)}
\GX{kleven}{493}{1277}{737}{1370}{D.J. Kleven}{Simplex of minimal volume (1979)}
\YX{menini}{484}{833}{677}{906}{Ch. Menini}{Classes de Gevrey-Roux et estimations\\pour l'équation du Cauchy-Riemann\\sur une intersection d'hypersurfaces\\ment pseudo-convexes (1996)}
\YX{ondies}{482}{940}{675}{1013}{M. Oundies}{Images d'applications holomorphes de\\C\textsuperscript{n} dans C\textsuperscript{m} (1996)}
\YX{davis}{76}{428}{270}{502}{D. Davis}{Generalized homology and the\\generalized vector field problem\\(1971)}
\YX{dd}{71}{702}{264}{775}{D.}{The structure of PL homotopy complexes\\projective spaces and groups of PL\\self-knottings (1975)}
\YX{witten}{72}{813}{266}{886}{C. Witten}{Self-maps of classifying spaces of\\finite groups (1978)}
\YX{jfdavis}{72}{924}{266}{997}{J.F. Davis}{Evaluation of the Swan finiteness\\obstruction (1982)}
\YX{hewett}{50}{1122}{244}{1195}{Th. Hewett}{Quadratic forms and quaternion\\algebras, modular invariants and the\\cohomology of S\textsubscript{n}(q) (1991)}
\YX{kallel}{50}{1245}{244}{1318}{S. Kallel}{The geometry of divisors and holo-\\morphic maps of Riemann surfaces\\(1994)}
\YX{gasparim}{50}{1353}{243}{1426}{E. Gasparim}{Holomorphic vector bundles on\\blow-ups (1995)}
\YX{overton}{50}{1452}{243}{1525}{Ch. Overton}{The stable splitting of the Mathieu\\group M\textsubscript{11} (1996)}
\RX{morita}{75}{526}{199}{578}{K. Morita}{Adjunctions and homology in the\\Eilenberg-Moore spectral\\sequence (1995)}
\RX{song}{252}{525}{376}{577}{H.-J. Song}{Stiefel-Whitney classes of\\projective spaces (1995)}
\RX{karaca}{76}{612}{200}{664}{I. Karaca}{Nilpotence in the Cech-Steenrod\\algebra (1996)}
\RX{yang}{252}{611}{377}{663}{H. Yang}{The stable homotopy types of\\stunted projective spaces (1996)}
\RX{pearson}{81}{1031}{205}{1083}{K. Pearson}{Algebraic K-theory of two-\\dimensional crystallographic\\groups (1995)}
\RX{thomas}{255}{1031}{380}{1083}{O. Thomas}{A cohomological invariant for\\hyperbolic forms over quaternion\\algebras (1996)}
\GX{fadlalla}{840}{333}{1083}{425}{A.A. Fadlalla}{Die Carathéodorysche Metrik\\(1962)}
\GX{spilker}{1245}{116}{1489}{209}{J. Spilker}{Algebraische Körper von\\automorphen Funktionen (1962)}
\GX{fischer}{970}{497}{1213}{592}{W. Fischer}{Zur Deformationstheorie\\holomorpher Vektorraumbündel\\(1964)}
\GX{lieb}{1328}{531}{1572}{625}{I. Lieb}{Komplexe Räume und komplexe\\Spektren (1965)}
\GX{richberg}{855}{809}{1098}{902}{R. Richberg}{Stetige streng pseudokonvexe\\Funktionen (1962)}
\GX{denneberg}{866}{1039}{1109}{1133}{D. Denneberg}{Divisoren in eindimensionalen\\affinoiden und affinen Räumen\\(1967)}
\GX{hund}{859}{1274}{1103}{1367}{E. Hund}{Eigenschaften analytisch voll-\\ständiger Räume (1968)}
\GX{kowitz}{501}{1470}{745}{1563}{S. Kowitz}{Ueber die Existenz Steinscher\\Mannigfaltigkeiten zu\\vorgegebenen Homologie-\\gruppen (1970)}
\YX{klein}{1127}{232}{1320}{305}{R. Klein}{Eine Anzahlfunktion bei diskreten\\Gruppen mit einer Anwendung auf\\Poincaresche Reihengarben (1977)}
\YX{hbmeyer}{1378}{232}{1572}{305}{H.-B. Meyer}{Passgrößen von Automorphismen\\verallgemeinerter Einheitsbasler\\(1974)}
\YX{hildebrand}{1378}{349}{1572}{422}{A. Hildebrand}{Ueber die punktweise Konvergenz von\\Riemann'schen Entwicklungen zahlen-\\theoretischer Funktionen (1983)}
\RX{gred}{1444}{449}{1568}{501}{G.}{On the coefficients of automorphic\\forms (1997)}
\YX{kriete}{851}{615}{1045}{688}{H. Kriete}{Ueber die Stabilität von Julia Mengen\\(1989)}
\YX{hattrup}{1310}{649}{1505}{722}{D. Hattrup}{Der $\bar\partial$-Operator mit Produkten\\streng pseudokonvexer Gebiete\\(1977)}
\YX{jmichel}{1310}{766}{1505}{839}{J. Michel}{Integralformeln in der komplexen\\Analysis (1981)}
\YX{broecker}{1313}{882}{1507}{955}{Th. Broecker}{Zur L-Kohomologie beschränkter\\Gebiete (1982)}
\YX{bertrams}{1313}{998}{1507}{1072}{J. Bertrams}{Randregularität von Lösungen der\\$\bar\partial$-Gleichung auf dem Polyzylinder und\\auf zweidimensionalen analytischen\\Polyedern (1986)}
\YX{henkelmann}{1313}{1107}{1507}{1180}{J. Henkelmann}{C\textsuperscript{k}-Abschätzungen für den Cauchy-\\Riemann Komplex (1987)}
\YX{strauss}{1310}{1207}{1504}{1280}{A. Strauss}{Integraldarstellungen und\\Abschätzungen für das $\bar\partial$-Neumann-\\Problem (1988)}
\YX{lma}{1310}{1323}{1504}{1395}{L. Ma}{Abschätzungen von Lösungen der $\bar\partial$-\\Gleichung auf streng q-konvexen\\Mengen mit nichtglattem Rand (1989)}
\YX{imichels}{1310}{1439}{1505}{1511}{I. Michels}{Integraldarstellung und Regularitäts-\\eigenschaften von Projektions-\\operatoren (1990)}
\end{cpp}
\begin{cpp}{1170}{560}{\XC}{\YA}
\YX{schulden}{1308}{15}{1503}{88}{U.Schuldenzucker}{Regularität der kanonischen Lösung\\der Cauchy-Riemannschen\\Differentialgleichungen (1993)}
\YX{schaal}{1310}{123}{1505}{196}{K. Schaal}{Lokale Regularität der tangentialen\\Cauchy-Riemannschen Differential-\\gleichungen (1996)}
\GX{ramirez}{182}{35}{424}{129}{\fontsize{6.8}{7.6}\selectfont E. Ramírez de Arellano}{Ein Divisionsproblem in der\\komplexen Analysis mit einer\\Anwendung auf Randintegral-\\darstellungen (1969)}
\YX{contreras}{176}{152}{371}{225}{P. C. Contreras}{Variedades tridimensionales simplemente\\conexas (1979)}
\YX{tovar}{174}{257}{368}{330}{L.M. Tovar}{El problema de Levi y de la unión\\en espacios analíticos (1985)}
\BX{kleisli}{117}{369}{421}{487}{H. Kleisli}{Homotopy theory in abelian\\categories (1960)}
\GX{auderset}{168}{539}{410}{632}{C. Auderset}{Adjonctions et monades au\\niveau des 2-catégories (1974)}
\GX{spindler}{182}{665}{424}{758}{H. Spindler}{Ueber die maximale Fortsetzung\\normaler analytischer Mengen\\(1978)}
\YX{lo}{181}{781}{375}{854}{S.-K. Lo}{Vektorbündel vom Rang 2 auf\\rationalen Regelflächen und auf\\P\textsuperscript{1}×P\textsuperscript{1} (1995)}
\GX{peternell}{150}{891}{393}{984}{T. Peternell}{Vektorraumbündel in der Nähe\\von kompakt komplexen\\Untermannigfaltigkeiten (1981)}
\YX{muellerstach}{282}{1006}{476}{1079}{S. Müller-Stach}{Eine Anwendung der Klassifikations-\\theorie projektiver Varietäten auf\\Kompaktifizierung des C\textsuperscript{n} (1990)}
\YX{pfischer}{285}{1122}{477}{1195}{P. Fischer}{Mannigfaltigkeiten mit fast positivem\\Normalbündel (1990)}
\YX{poehlmann}{283}{1240}{476}{1313}{Th. Poehlmann}{Untermannigfaltigkeiten (1990)}
\YX{kuechle}{285}{1358}{477}{1431}{O. Küchle}{Kompaktifizierung von C\textsuperscript{2}×C\textsuperscript{1} (1992)}
\YX{steffens}{283}{1464}{477}{1537}{A. Steffens}{Stabilität des Tangentialbündels von\\Fano 3-Mannigfaltigkeiten (1995)}
\GX{pflug}{501}{60}{744}{153}{P. Pflug}{Eigenschaften der Fortsetzung von\\in speziellen Gebieten holomor-\\phen polynomialen Funktionen\\in die Holomorphiehülle (1972)}
\GX{vormoor}{501}{196}{744}{289}{N. Vormoor}{Topologische Fortsetzung biholomorpher\\Funktionen auf dem Rande bei beschränkten\\streng pseudo-konvexen Gebieten in\\mit n>1 Rand (1973)}
\GX{muelich}{507}{336}{750}{429}{G. Mülich}{Familien holomorpher Vektorraumbündel\\über der Projektiven Gerade und\\unzerlegbare holomorphe 2-Bündel\\über der Projektiven Ebene (1974)}
\GX{commichau}{507}{472}{750}{565}{M. Commichau}{Deformation kompakt komplexer\\Mannigfaltigkeiten (1975)}
\GX{lichte}{502}{608}{745}{701}{M. Lichte}{Zur Berechnung der Dimension der ersten\\Bildgabe der Strukturgarbe einer\\Auflösung einer Zweidimensionalen\\normalen Singularität (1976)}
\GX{riebesehl}{502}{775}{745}{868}{D. Riebesehl}{Hyperbolische komplexe Räume\\und die Vermutung von Mordell\\(1980)}
\GX{vsteinbiss}{508}{1038}{751}{1131}{V. Steinbiss}{Das formale Prinzip für reduzierte\\komplexe Räume mit einer\\schwachen Positivitätseigenschaft\\(1985)}
\GX{dethloff}{508}{1175}{751}{1268}{G.-E. Dethloff}{Wesentliche Singularitäten\\meromorpher Abbildungen (1988)}
\GX{toda}{508}{1306}{751}{1399}{M. Toda}{Discrete analytic equivalence\\relations on complex spaces\\(1992)}
\GX{tuexen}{508}{1442}{751}{1535}{M. Tüxen}{Reelle Räume (1996)}
\GX{narasimhan}{825}{55}{1068}{148}{R. Narasimhan}{Eine geometrische Eigenschaft von\\Rungeschen Gebieten (1971)}
\GX{braun}{825}{191}{1068}{284}{R. Braun}{Cauchy-Fantappiè Formeln und\\Dualität in der Funktionentheorie\\(1972)}
\GX{schnittker}{825}{331}{1068}{424}{J. Schnittker}{Algebraische Singularitäten\\analytischer Räume (1973)}
\GX{skirde}{825}{467}{1068}{560}{A. Skirde}{Ueber ein Divisionsproblem bei\\differenzierbaren Funktionen\\komplexer Variablen (1974)}
\GX{fritzsche}{825}{598}{1068}{691}{K. Fritzsche}{Ein Kriterium für die q-konvexität\\von Restmengen in kompakten\\komplexen Mannigfaltigkeiten\\(1975)}
\GX{leykum}{825}{751}{1068}{845}{S. Leykum}{Ein Satz der statistischen Geometrie\\(1980)}
\GX{hoppe}{825}{888}{1068}{981}{H.J. Hoppe}{Stabile Vektorraumbündel auf\\rationalen Regelflächen (1980)}
\GX{mpeternell}{825}{1029}{1068}{1122}{M. Peternell}{Ein Lefschetz-Satz für Schnitte in\\projektiv-algebraischen\\Mannigfaltigkeiten (1983)}
\GX{isteinbiss}{825}{1166}{1068}{1259}{I. Steinbiss}{Ueber Familien streng pseudo-\\konvexer Umgebungen exzeptio-\\neller analytischer Mengen (1988)}
\GX{siebert}{825}{1297}{1068}{1390}{B. Siebert}{Faserzykelräume, geometrische\\Plurifikation und meromorphe\\Aequivalenzrelationen (1991)}
\GX{herbers}{825}{1433}{1068}{1526}{G. Herbers}{Ein konstruktiver Beweis für die\\Spaltungen komplex-analytischer\\Vektorbündel auf dem P\textsuperscript{1} (1995)}
\GX{trautmann}{1328}{239}{1572}{332}{G. Trautmann}{Ein Kontinuitätssatz für die Fort-\\setzung kohärenten analytischer\\Garben (1966)}
\YX{blickensdoerfer}{1320}{360}{1513}{433}{H. Blickensdörfer}{Dualitätssätze für Hyperfunktionen\\mit Koeffizienten in kohärenten\\Garben (1974)}
\YX{hortmann}{1320}{477}{1513}{550}{M. Hortmann}{Lösung des $\bar\partial$-Problem für Ringgebiete\\(1976)}
\YX{riemer}{1320}{592}{1513}{665}{R.-L. Riemer}{Ueber eine Klasse von in C\textsuperscript{n} (?)\\-lokal freien Garben mit einer\\nichtverschwindenden lokalen\\Kohomologiegruppe (1976)}
\YX{shirra}{1320}{708}{1513}{781}{W. Shirra}{Globale Fragen im Zusammenhang\\mit Bemolanten von Schnitten in\\kohärenten analytischen Garben\\(1978)}
\YX{boehmer}{1320}{817}{1513}{890}{W. Böhmer}{Monaden und Mutigen für Vektor-\\bündeln über P\textsubscript{2} (1981)}
\YX{glansmann}{1320}{924}{1513}{997}{H.-J. Glansmann}{Deformationen von kollaten Singular-\\itäten kohärenter analytischer Garben\\mit Methoden von A. Douady (1982)}
\YX{decker}{1320}{1021}{1513}{1094}{W. Decker}{Wirkung der Automorphismengruppe\\auf Modulräume von Vektorbündeln\\über P\textsubscript{3} (1986)}
\RX{popescu}{1378}{1135}{1503}{1185}{S. Popescu}{On smooth surfaces of degree\\${\geq}$11 in P\textsuperscript{4} (1996)}
\YX{kallenborn}{1313}{1221}{1507}{1294}{R. Kallenborn}{Kompaktifizierung des Modulraumes\\M(0,2) ersten 2-Instantonen auf S\textsuperscript{4}\\(1987)}
\YX{voellinger}{1315}{1337}{1509}{1410}{H. Völlinger}{Modul von Kegelbündeln auf P\textsubscript{2}(C)\\und Kompaktifizierung eines Schnitt-\\raumes für einen Beispiel (1988)}
\YX{rippel}{1313}{1453}{1507}{1526}{Ch. Rippel}{Generic initial ideal theory for\\coordinate rings of flag varieties\\(1992)}
\end{cpp}
\begin{cpp}{1170}{1120}{\XC}{\YA}
\YX{freitag}{284}{41}{477}{114}{P. Freitag}{Homotopieoptik von Immersionen\\Rang 3-Mannigfaltigkeiten mit\\(1996)}
\YX{schaefer}{284}{157}{479}{230}{A. Schäfer}{Projektiven Mannigfaltigkeiten mit\\semipositivem logarithmischen\\Tangentialbündel (1996)}
\GX{armbruester}{825}{23}{1068}{116}{U. Armbrüster}{Fortsetzungsaussagen für\\Kohomologieklassen (1996)}
\YX{nuessler}{1313}{15}{1507}{88}{Th. Nüssler}{Structure and construction of\\instanton bundles on P\textsubscript{3} (1996)}
\GX{kalmbach}{1328}{130}{1572}{222}{G. Kalmbach}{Ueber niederdimensionale CW-\\komplexe in nichtkompakten\\Mannigfaltigkeiten (1966)}
\YX{dichtl}{1324}{246}{1518}{319}{M. Dichtl}{Schnitzen und Verklebungen (1981)}
\YX{dietz}{1322}{350}{1516}{423}{U. Dietz}{Orthogonalitäten und Orthomodu-\\larität (1982)}
\YX{gensheimer}{1322}{449}{1516}{522}{H. Gensheimer}{Maxse auf orthomodularen Verbänden\\(1983)}
\GX{diederich}{545}{167}{788}{261}{K. Diederich}{Das Randverhalten der Bergman-\\schen Kernfunktion und Metrik auf\\streng pseudokonvexen Gebieten\\(1969)}
\YX{behrens}{426}{284}{619}{357}{M. Behrens}{Plurisubharmonische definierende\\Funktionen pseudokonvexer Gebiete\\(1983)}
\YX{herbort}{677}{284}{870}{357}{G. Herbort}{Ueber die Geodätischen der\\Bergman-Metrik (1981)}
\YX{rapp}{426}{400}{619}{473}{M. Rapp}{Fortsetzungssätze für q-konvexe\\Funktionen und positive geschlossene\\Ströme (1991)}
\YX{schwarz}{677}{400}{870}{473}{W. Schwarz}{Lokale q-Vollständigkeit des Komple-\\ments von CR-Untermannigfaltigkeiten\\im P\textsuperscript{n} (1989)}
\YX{schreiber}{426}{516}{621}{589}{Ch. Schreiber}{Fortsetzungssätze für quadrat-\\integrierbare holomorphe Funktionen\\(1995)}
\YX{vajaitu}{677}{516}{870}{589}{V. Vajaitu}{q-complete and q-convex spaces\\(1993)}
\GX{finckenstein}{992}{302}{1234}{396}{K.G.F. von\\Finckenstein}{Ueber zweidimensionale normale\\Singularitäten (1966)}
\YX{meister}{1034}{418}{1229}{491}{M. Meister}{Eine asymptotische Entwicklung des\\globalen Einbettung von\\Differenzenschemen für Quasilinearen\\parabolische Systeme (1986)}
\YX{lappe}{1034}{518}{1230}{591}{M. Lappe}{Adaptive Gitter für quasilineare\\parabolische Systeme in einer\\Raumdimension (1990)}
\YX{schwab}{1034}{629}{1228}{702}{C. Schwab-Nührenberg}{Numerische Verfahren zur Unter-\\suchung der magnetohydrodyna-\\mischen Stabilität stellaratorsmän\\Plasmagleichgewicht (1991)}
\GX{reckziegel}{726}{635}{970}{727}{H. Reckziegel}{Hyperbolische Räume und\\normale Familien holomorpher\\Abbildungen (1967)}
\YX{molzan}{605}{764}{800}{837}{R. Molzan}{Extrinsische Produkte und symmetrische\\Untermannigfaltigkeiten in Standard-\\Räume konstanter und konstanter\\holomorpher Krümmung (1983)}
\YX{backes}{855}{761}{1048}{834}{E. Backes}{Einige Beiträge zur Theorie symme-\\trischer Immersionen in Räume\\konstanter Krümmung (1983)}
\YX{berndt}{605}{866}{800}{939}{J. Berndt}{Ueber Untermannigfaltigkeiten\\von komplexen Raumformen (1989)}
\YX{meumertz}{855}{859}{1048}{932}{Th. Meumertzheim}{Ueber C\textsuperscript{k}-Abbildungen mit\\differentiellen Nebenbedingungen\\(1989)}
\YX{noelker}{605}{983}{800}{1056}{S. Nölker}{Isometrische Immersionen verzerrter\\Produkte (1990)}
\YX{klingenberg}{855}{976}{1048}{1049}{G. Klingenberg}{Orbiträume Lie'scher Gruppen und\\homogene Faserbündel (1990)}
\YX{boening}{605}{1100}{800}{1173}{R. Böning}{Krümmungsflächen isometrischer\\Immersionen unter besonderer\\Berücksichtigung von komplexen\\Raumformen (1994)}
\YX{nuebel}{855}{1092}{1050}{1165}{F. Nübel}{Integration von verallgemeinerten\\Umbilicität(hyperumbilik), horizontale\\Strukturen und damit verbundene\\Differentialausdrücke (1995)}
\GX{riemensch}{1255}{632}{1498}{725}{O. Riemenschneider}{Ueber den Flächeninhalt analy-\\tischer Mengen und die Erzeugung\\k-pseudokonvexer Gebiete (1965)}
\YX{behnke}{1110}{748}{1304}{821}{K. Behnke}{Projektive Auflösung von Poincaré-\\Algebren und Ooeverlagerungen\\(1981)}
\YX{petow}{1360}{748}{1554}{821}{R. Petow}{Ueber ein Projektivitätskriterium für\\Moishezon-Räume mit isolierten\\Singularitäten (1979)}
\YX{woehrmann}{1110}{865}{1304}{938}{M. Wöhrmann}{Konstruktion selbst dualer Lösungen der\\Einsteinschen Vakuum-Feldgleichungen\\unter Verwendung der Twistortheorie\\Aspekte rationaler Doppelpunkte (1994)}
\YX{arndt}{1360}{865}{1554}{938}{J. Arndt}{Verteilte Deformationen elliptischer\\Quotientensingularitäten (1988)}
\YX{behrmann}{1110}{982}{1304}{1055}{J. Behrmann}{Zur Klassifikation äquivarianter\\Vektorraumbündel über Torus\\einbettungen (1994)}
\YX{wunram}{1360}{982}{1554}{1055}{J. Wunram}{Reflexive Moduln auf zwei-\\dimensionalen Quotienten\\singularitäten (1986)}
\YX{drewes}{1110}{1098}{1304}{1171}{R. Drewes}{Deformationen von Kegeln über\\kanonischen trigonalen Kurven (1996)}
\YX{roehr}{1360}{1098}{1554}{1171}{A. Röhr}{Formale rationale Singularitäten (1996)}
\BX{castellet}{207}{645}{513}{763}{M. Castellet}{Grupos finitos con cohomología\\periódica y espacios que admiten\\recubrimientos esféricos (1973)}
\GX{aguade}{300}{796}{544}{889}{J. Aguadé}{Fibracions d'esferes per esferes\\mòdul p (1979)}
\GX{navarro}{-15}{892}{228}{985}{J.L. Navarro}{Existencia y clasificación de\\co-H-estructuras (1979)}
\GX{segura}{-15}{1024}{228}{1117}{I. Segura}{Periodicidad en grupos de\\dimensión cohomológica\\virtual finita (1981)}
\GX{casacuberta}{-15}{1145}{228}{1238}{C. Casacuberta}{Espais topològics amb accions\\P-locals (1988)}
\YX{rodriguez}{2}{1267}{195}{1340}{J.L. Rodríguez}{On homotopy colimits of spaces with\\a single homology or homotopy\\group (1997)}
\YX{broto}{298}{928}{493}{1001}{C. Broto}{Cadenes lineals i fibracions\\esfèriques (1987)}
\YX{saumell}{298}{1127}{493}{1200}{L. Saumell}{Sobre espais de llaços lliures dels\\possibles i espais de llaços finits\\homotòpicament commutatius (1988)}
\YX{msantos}{298}{1232}{493}{1305}{M. Santos}{Propiedades homotópicas de D(d,t)\\(1997)}
\RX{viruel}{367}{1035}{492}{1086}{A. Viruel}{Homotopy uniqueness of\\classifying spaces of compact\\Lie groups (1996)}
\YX{scherer}{186}{273}{380}{346}{J. Scherer}{Exposants universels pour les groupes\\Gamma de la suite exacte de\\Whitehead (1996)}
\YX{tischler}{188}{368}{382}{441}{N. Tischler}{Invariants de Postnikov des espaces\\de lacets (1996)}
\end{cpp}
\begin{cpp}{1170}{1680}{\XC}{\YD}
\BX{egli}{-24}{553}{283}{672}{H. Egli}{Picard-Kategorien und funktorielle\\Determinantentheorie (1975)}
\GX{sax}{22}{74}{266}{168}{U. Sax}{Grenzwertsätze für unendlich-\\dimensionale schwach wechsel-\\wirkende Partikelsysteme (1985)}
\GX{schmock}{25}{194}{269}{289}{U. Schmock}{On the maximum entropy principle\\for Markov chains and processes\\(1990)}
\GX{koenig}{29}{322}{273}{416}{W. König}{Asymptotics for a one-dimensional\\discrete polymer measure (1994)}
\BX{mhuber}{159}{786}{465}{905}{M. Huber}{Klassen von Moduln über\\Dedekindringen und Satz von\\Stein-Serre (1976)}
\GX{unseld}{243}{957}{487}{1051}{H.-P. Unseld}{Untermodulverbände und\\Endomorphismenringe (1986)}
\BX{biner}{183}{1127}{489}{1246}{H.-J. Biner}{Homologische Dualität von\\Moduln, insbesondere über\\Hopf-Algebren (1981)}
\BX{lage}{531}{1236}{837}{1355}{A.J.P. Lage}{Ueber die Chernklassen flacher\\komplexer Vektorbündel (1981)}
\BX{staffelbach}{881}{1234}{1188}{1353}{O. Staffelbach}{Aufspaltung komplexer Vektor-\\bündel in flache Linienbündel\\(1983)}
\BX{fornera}{1230}{1236}{1536}{1355}{L. Fornera}{Caractéristique eulérienne de\\groupes et rangs de modules\\projectifs (1986)}
\node[scriptline] (s1) at (1075,-42) {Mathematischer Stammbaum};
\node[scriptline] (s2) at (1075,65) {von};
\node[scriptline] (s3) at (1075,225) {Professor Beno Eckmann};
\node[scriptline] (s4) at (1075,390) {Mit den herzlichsten};
\node[scriptline] (s5) at (1075,495) {Glückwünschen};
\node[scriptline] (s6) at (1075,598) {zum 80. Geburtstag};
\node[scriptline] (s7) at (1075,700) {vom katalanischen Zweig};
\node[scriptline] (s8) at (1075,800) {31. März 1997};
\end{cpp}
%%%%%%%%%%%%%%%%%%%%%% CONNECTORS
\begin{scope}[on background layer]
\fill[white] (0,0) rectangle (1767,2243);
% blue, global pixel coordinates
\coordinate (root) at (913.4,35);
\draw[bl] (root) -- (913.4,2243);
\draw[ml] (755,0) -- (755,34) -- (1072,34) -- (1072,0);
\draw[bl] (huber.east |- 0,30) -- (374,30) -- (374,345.7) -- (552,345.7) -- (552,390) -- (725.9,390) -- (725.9,531.8) -- (913.4,531.8);
\trk{gugg.east}{60}
\trk{ghenzi.east}{110.5}
\trk{kirchhoff.east}{173.4}
\draw[bl] (froelicher.east |- 0,235.2) -- (878.6,235.2) -- (878.6,212.3) -- (913.4,212.3);
\trk{curjel.east}{435.8}
\trk{wmeier.east}{592}
\trk{fatt.east}{649.4}
\trk{matzinger.east}{711.9}
\trk{staerk.east}{775.6}
\trk{thoeni.east}{863.5}
\draw[bl] (carnal.east |- 0,629.4) -- (732.4,629.4) -- (732.4,821.4) -- (913.4,821.4);
\draw[bl] (stamm.east |- 0,692.3) -- (182.9,692.3) -- (182.9,774.5) -- (254.9,774.5) -- (254.9,908.2) -- (913.4,908.2);
\draw[bl] (frei.east |- 0,811.5) -- (225.4,811.5) -- (225.4,946.8) -- (913.4,946.8);
\draw[bl] (deruaz.east |- 0,929) -- (195.6,929) -- (195.6,986) -- (913.4,986);
\draw[bl] (913.4,1023.5) -- (53.6,1023.5) -- (53.6,0 |- sigrist.north);
\draw[bl] (913.4,1060.2) -- (88,1060.2) -- (88,1442.8) -- (knus.west |- 0,1442.8);
\draw[bl] (913.4,1097.3) -- (120.9,1097.3) -- (120.9,1398.1) -- (voegele.west |- 0,1398.1);
\trk{terrier.east}{1134.5}
\draw[bl] (913.4,1171.3) -- (285.5,1171.3) -- (285.5,0 |- ojanguren.north);
\trk{storrer.east}{1204.7}
\trk{suter.east}{1251.2}
\trk{held.east}{1297.4}
\trk{hoesli.east}{1349}
\trk{bachmann.east}{1404.6}
\trk{kubli.east}{1454.4}
\draw[bl] (913.4,1494.4) -- (524.3,1494.4) -- (524.3,0 |- glaus.south);
\draw[bl] (913.4,1535.5) -- (424.8,1535.5) -- (424.8,0 |- gruenenfelder.south);
\draw[bl] (913.4,1576.2) -- (338.7,1576.2) -- (338.7,0 |- schorta.south);
\trk{ledergerber.east}{1619.1}
\trk{gronstein.east}{1662}
\trk{naef.east}{1705.5}
\trk{dubach.east}{1751.8}
\draw[bl] (913.4,1794.9) -- (421,1794.9) -- (421,0 |- bieri.north);
\draw[bl] (913.4,1963) -- (540.7,1963) -- (540.7,0 |- bmeier.south);
\draw[bl] (913.4,1922.4) -- (684.5,1922.4) -- (684.5,0 |- pont.south);
\draw[bl] (913.4,1881.1) -- (828.8,1881.1) -- (828.8,0 |- zufferey.south);
\trk{schneebeli.east}{2002.1}
\trk{lundmark.east}{2043.4}
\trk{buergisser.east}{2087.6}
\trk{plesko.east}{2127.8}
\trk{widmer.east}{2168.4}
\trk{wies.east}{2207.2}
% blue, right side
\draw[bl] (913.4,243.5) -- (946.7,243.5) -- (946.7,60) -- (1155.6,60) -- (1155.6,21.8) -- (1489,21.8) -- (1489,0 |- grauert.north);
\draw[bl] (913.4,285.4) -- (978.4,285.4) -- (978.4,92.7) -- (aeppli.west |- 0,92.7);
\draw[bl] (913.4,402.8) -- (970,402.8) -- (970,674.5) -- (1168.6,674.5) -- (1168.6,714.5) -- (kleisli.west |- 0,714.5);
\draw[bl] (913.4,927.1) -- (967,927.1) -- (967,723.6) -- (stammbach.west |- 0,723.6);
\draw[bl] (913.4,1223.6) -- (960.5,1223.6) -- (960.5,1051.5) -- (mislin.west |- 0,1051.5);
\draw[bl] (913.4,1830.1) -- (952.4,1830.1) -- (952.4,1379.9) -- (castellet.west |- 0,1379.9);
\draw[bl] (913.4,1861.3) -- (997.6,1861.3) -- (997.6,1665.3) -- (bolthausen.west |- 0,1665.3);
\trk{gut.west}{1901.9}
\draw[bl] (913.4,1942.5) -- (1212.6,1942.5) -- (1212.6,0 |- egli.south);
\trk{mhuber.west}{1983.4}
\trk{huebschmann.west}{2022.9}
\trk{hmueller.west}{2063.5}
\trk{biner.west}{2108.4}
\trk{lage.west}{2148.6}
\draw[bl] (913.4,2189.2) -- (1567.8,2189.2) -- (1567.8,0 |- staffelbach.south);
\draw[bl] (913.4,2227.6) -- (1695.4,2227.6) -- (1695.4,0 |- fornera.south);
% green, global
\draw[gl] (35.2,53) -- (35.2,647);
\draw[gl] (35.2,258.8) -- (11.5,258.8) -- (11.5,1787) -- (gasser.west |- 0,1787);
\draw[gl] (537.3,76) -- (537.3,309);
\draw[gl] (537.3,224.3) -- (556.8,224.3) -- (556.8,97.4) -- (tropper.west |- 0,97.4);
\draw[gl] (537.3,267.2) -- (freedman.west |- 0,267.2);
\draw[gl] (1468.5,115) -- (1468.5,1160);
\draw[gl] (1468.5,166.5) -- (1591.4,166.5) -- (1591.4,55.6) -- (spilker.west |- 0,55.6);
\draw[gl] (1468.5,269) -- (1648.9,269) -- (1648.9,205.4) -- (lieb.west |- 0,205.4);
\draw[gl] (1468.5,279.9) -- (1651.6,279.9) -- (1651.6,664.7) -- (trautmann.west |- 0,664.7);
\draw[gl] (1468.5,335.1) -- (1638.3,335.1) -- (1638.3,1182.5) -- (kalmbach.west |- 0,1182.5);
\draw[gl] (1468.5,355.5) -- (1625.7,355.5) -- (1625.7,1213.8) -- (1652.7,1213.8) -- (1652.7,0 |- riemensch.north);
\draw[gl] (1468.5,369) -- (1613.5,369) -- (1613.5,0 |- finckenstein.north);
\draw[gl] (1468.5,441.7) -- (1600.2,441.7) -- (1600.2,1213.8) -- (1523.3,1213.8) -- (1523.3,0 |- reckziegel.north);
\draw[gl] (1468.5,534.3) -- (1586.9,534.3) -- (1586.9,1196.3) -- (diederich.east |- 0,1196.3);
\draw[gl] (1468.5,506) -- (1286.9,506) -- (1286.9,565.3) -- (1202.4,565.3) -- (1202.4,590.9) -- (bartenwerfer.east |- 0,590.9);
\draw[gl] (1468.5,521.6) -- (1318.1,521.6) -- (1318.1,0 |- ramirez.north);
\draw[gl] (160.7,1464.6) -- (160.7,1742.8);
\draw[gl] (1094.4,1073.6) -- (1094.4,1355.5);
\draw[gl] (1166,1688) -- (1166,1838);
% yellow, global
\draw[yl] (598.4,445) -- (598.4,611);
\draw[yl] (1753.2,227) -- (1753.2,634.5);
\draw[yl] (1756.7,680.7) -- (1756.7,1158);
\draw[yl] (1266.7,917.7) -- (1266.7,1212.7);
\draw[yl] (bneuen.east |- 0,814.8) -- (526.2,814.8) -- (526.2,765.4) -- (620.6,765.4);
% crop A
\begin{cpp}{0}{0}{\XA}{\YA}
\gc{fluehler.west}{92}{202}
\draw[gl] (92,280) -- (448,280) -- (448,200) -- (knuessel.west |- 0,200);
\gc{hubercarol.west}{92}{344}
\draw[gl] (92,655) -- (591,655) -- (591,418) -- (kleiner.west |- 0,418);
\gc{antille.west}{92}{685}
\gc{joss.west}{92}{771}
\gc{tacier.west}{92}{901}
\gc{stuetzle.west}{92}{1008}
\gc{wolf.west}{92}{1082}
\gc{schoenh.west}{92}{1167}
\gc{buja.west}{92}{1324}
\draw[gl] (92,1555) -- (1290,1555) -- (1290,1198) -- (donoho.west |- 0,1198);
\gc{taylor.east}{1404}{273}
\gc{sayraf.east}{1404}{405}
\gc{etropper.east}{1404}{541}
\gc{lutwak.east}{1404}{675}
\stm{yl}{697}{233}{342}
\yc{michalk.east}{697}{285}
\yc{wuerl.west}{697}{315}
\stm{yl}{339}{409}{630}
\yc{mesbah.east}{339}{461}
\yc{meliani.west}{339}{491}
\yc{kramar.east}{339}{578}
\yc{robin.west}{339}{607}
\stm{yl}{685}{737}{982}
\yc{milasevic.east}{685}{790}
\yc{kurmann.west}{685}{818}
\yc{mazza.east}{685}{905}
\yc{kiener.west}{685}{935}
\stm{yl}{884}{1081}{1448}
\yc{mcdonald.east}{884}{1127}
\yc{hastie.west}{884}{1155}
\yc{donnell.east}{884}{1315}
\yc{mckinney.east}{884}{1404}
\yc{huang.west}{884}{1361}
\stm{yl}{343}{1389}{1533}
\yc{hurley.east}{343}{1441}
\yc{cook.west}{343}{1471}
\draw[yl] (343,1510) -- (610,1510) -- (610,1317) -- (donnell.west |- 0,1317);
\stm{yl}{1101}{735}{878}
\yc{rabinowitz.west}{1101}{821}
\stm{rl}{807}{1178}{1256}
\draw[rl] (807,1231) -- (148,1231) -- (148,1307);
\stm{rl}{148}{1345}{1412}
\stm{rl}{939}{1178}{1256}
\rc{crellin.west}{939}{1221}
\yc{liu.east}{1564}{1293}
\yc{wang.east}{1564}{1393}
\yc{kooperberg.east}{1564}{1509}
\end{cpp}
% crop D
\begin{cpp}{0}{560}{\XA}{\YA}
\gc{goodall.west}{92}{78}
\gc{brown.west}{92}{212}
\yc{kolaczyk.east}{1564}{87}
\stm{gl}{153}{422}{563}
\gc{gilligan.west}{153}{498}
\stm{gl}{158}{753}{895}
\gc{chen.west}{158}{830}
\stm{gl}{1015}{256}{875}
\draw[gl] (huesler.east |- 0,170) -- (918,170) -- (918,293) -- (1015,293);
\gc{nyffeler.west}{1015}{333}
\gc{amacher.west}{1015}{427}
\gc{dozzi.west}{1015}{545}
\gc{emmenegger.east}{1015}{581}
\gc{dneuen.east}{1015}{684}
\gc{schweizer.east}{1015}{812}
\gc{bneuen.west}{1015}{720}
\gc{hueter.west}{1015}{851}
\draw[gl] (1015,633) -- (1348,633) -- (1348,375) -- (flury.west |- 0,375);
\stm{yl}{764}{205}{505}
\yc{maibach.east}{764}{280}
\yc{braeker.east}{764}{385}
\yc{haemmerli.east}{764}{482}
\yc{schuepbach.west}{764}{365}
\yc{catkan.west}{764}{448}
\end{cpp}
% crop G
\begin{cpp}{0}{1120}{\XA}{\YA}
\gc{casal.west}{420}{1026}
\gc{huerlimann.west}{420}{1150}
\gc{pelloni.west}{420}{1273}
\gc{bichsel.west}{420}{1403}
\gc{mittelholzer.west}{420}{1517}
\stm{gl}{104}{1164}{1398}
\gc{borel.west}{104}{1238}
\gc{jaquet.west}{104}{1366}
\stm{gl}{414}{117}{258}
\gc{baddou.west}{414}{195}
\stm{gl}{646}{449}{720}
\gc{wyler.east}{646}{565}
\gc{ayoub.west}{646}{527}
\gc{failletaz.west}{646}{652}
\stm{gl}{1084}{317}{588}
\gc{haeppli.east}{1084}{432}
\gc{pstrebel.west}{1084}{394}
\gc{mmueller.west}{1084}{520}
\end{cpp}
% crop J
\begin{cpp}{0}{1680}{\XA}{\YD}
\gc{zueger.west}{420}{108}
\stm{yl}{438}{345}{948}
\yc{haerdle.east}{438}{434}
\yc{hgmueller.west}{438}{389}
\yc{kneip.west}{438}{692}
\yc{besthorn.west}{438}{798}
\yc{broeckmann.west}{438}{888}
\stm{rl}{219}{459}{1265}
\rc{vieu.west}{219}{510}
\rc{sarda.west}{219}{735}
\rc{rodriguezpoo.west}{219}{803}
\rc{turlach.west}{219}{872}
\rc{dasdoigis.west}{219}{940}
\rc{proenca.west}{219}{1018}
\rc{bianchi.west}{219}{1085}
\rc{klinke.west}{219}{1153}
\rc{bertschek.west}{219}{1223}
\stm{pl}{258}{547}{705}
\cnn{pl}{youndje.west}{258}{592}
\cnn{pl}{boularan.west}{258}{665}
\stm{rl}{627}{442}{620}
\rc{kssong.east}{627}{515}
\rc{pfewitt.west}{627}{492}
\rc{jbraun.east}{627}{583}
\rc{capra.west}{627}{560}
\stm{gl}{1064}{700}{1015}
\gc{tmueller.east}{1064}{817}
\gc{renz.west}{1064}{780}
\gc{meinert.east}{1064}{937}
\gc{gehrke.west}{1064}{907}
\end{cpp}
% crop B
\begin{cpp}{590}{0}{\XA}{\YA}
\stm{gl}{500}{705}{1082}
\gc{bucher.west}{500}{782}
\gc{favrot.west}{500}{907}
\gc{faure.west}{500}{1037}
\stm{gl}{495}{1244}{1385}
\gc{michaelis.west}{495}{1322}
\stm{yl}{167}{332}{645}
\yc{grosejl.east}{167}{385}
\yc{evequoz.west}{167}{413}
\yc{glazer.east}{167}{501}
\yc{boukerche.west}{167}{530}
\yc{avril.east}{167}{618}
\stm{yl}{195}{792}{1025}
\yc{frail.east}{195}{879}
\yc{shuzin.west}{195}{850}
\yc{kerner.east}{195}{996}
\yc{horvath.west}{195}{967}
\yc{fan.west}{22}{1305}
\yc{zhou.west}{22}{1420}
\yc{gao.west}{22}{1534}
\yc{carlsson.east}{1540}{738}
\yc{mann.east}{1540}{478}
\yc{oreilly.east}{1540}{652}
\yc{perloff.east}{1540}{792}
\yc{wright.east}{1540}{917}
\yc{artaud.east}{1540}{1026}
\yc{maginnis.east}{1540}{1140}
\yc{havlicek.east}{1540}{1240}
\yc{biro.east}{1540}{1351}
\yc{umland.east}{1540}{1469}
\stm{rl}{1327}{501}{598}
\rc{crawford.west}{1327}{562}
\stm{rl}{1081}{765}{1568}
\rc{zack.west}{1081}{826}
\rc{lee.west}{1081}{900}
\rc{rognes.west}{1081}{980}
\rc{silvermann.west}{1081}{1065}
\rc{morlad.west}{1081}{1150}
\rc{sherry.west}{1081}{1229}
\rc{tanton.west}{1081}{1311}
\rc{karagueuzian.west}{1081}{1395}
\rc{paraschivescu.west}{1081}{1475}
\end{cpp}
% crop E
\begin{cpp}{590}{560}{\XA}{\YA}
\yc{schen.west}{22}{113}
\stm{yl}{80}{413}{882}
\yc{niyikiza.east}{80}{480}
\yc{zoppe.east}{80}{665}
\yc{lli.east}{80}{763}
\yc{novi.east}{80}{830}
\yc{schmid.west}{80}{455}
\yc{keller.west}{80}{545}
\yc{tarpey.west}{80}{640}
\yc{rowe.west}{80}{735}
\yc{loperfido.west}{80}{858}
\stm{gl}{1320}{498}{1257}
\gc{llerena.east}{1320}{608}
\gc{dmeier.east}{1320}{727}
\gc{diethelm.east}{1320}{853}
\gc{nicollier.east}{1320}{977}
\gc{stricker.east}{1320}{1098}
\gc{lanini.east}{1320}{1218}
\gc{strebel.west}{1320}{572}
\gc{jeger.west}{1320}{697}
\gc{baur.west}{1320}{823}
\gc{dnuessli.west}{1320}{946}
\gc{schmidb.west}{1320}{1068}
\gc{heldner.west}{1320}{1189}
\stm{yl}{1334}{128}{243}
\yc{hanning.west}{1334}{207}
\stm{rl}{1081}{0}{228}
\rc{dutch.west}{1081}{22}
\rc{bayrooti.west}{1081}{100}
\rc{kook.west}{1081}{185}
\gc{bauer.east}{1318}{1510}
\gc{molnar.west}{1318}{1470}
\end{cpp}
% crop H
\begin{cpp}{590}{1120}{\XA}{\YA}
\stm{gl}{130}{436}{745}
\gc{junod.east}{130}{551}
\gc{jeanneret.east}{130}{670}
\gc{jeandupeux.west}{130}{583}
\gc{osse.west}{130}{707}
\gc{menal.east}{1778}{808}
\stm{yl}{1228}{864}{1232}
\yc{ara.east}{1228}{930}
\yc{moncasi.west}{1228}{908}
\yc{cedo.west}{1228}{1007}
\yc{busque.east}{1228}{1103}
\yc{camps.west}{1228}{1185}
\yc{herbera.east}{1228}{1205}
\stm{rl}{1173}{955}{1035}
\rc{pardo.east}{1173}{999}
\stm{rl}{1302}{1048}{1139}
\rc{pitarch.west}{1302}{1092}
\gc{piveteau.east}{1318}{95}
\gc{kaufmann.east}{1318}{232}
\gc{amueller.east}{1318}{357}
\gc{grieder.east}{1318}{483}
\gc{naffah.east}{1318}{587}
\gc{arlettaz.west}{1318}{55}
\gc{bokor.west}{1318}{181}
\gc{pfenniger.west}{1318}{310}
\gc{bernardinis.west}{1318}{433}
\end{cpp}
% crop K
\begin{cpp}{590}{1680}{\XA}{\YD}
\gc{schneller.east}{1505}{140}
\gc{mansmann.east}{1505}{260}
\gc{gentz.east}{1505}{385}
\end{cpp}
% crop C
\begin{cpp}{1170}{0}{\XC}{\YA}
\stm{gl}{419}{317}{1355}
\gc{milgram.east}{419}{333}
\gc{weaver.west}{419}{377}
\gc{akiyama.west}{419}{510}
\gc{woodruff.west}{419}{628}
\gc{grumann.west}{419}{744}
\gc{tomsich.west}{419}{1086}
\gc{varadachari.west}{419}{1193}
\gc{kleven.west}{419}{1318}
\stm{yl}{705}{796}{1018}
\yc{menini.east}{705}{862}
\yc{ondies.east}{705}{975}
\stm{yl}{25}{412}{1550}
\yc{davis.west}{25}{444}
\yc{dd.west}{25}{717}
\yc{witten.west}{25}{837}
\draw[yl] (25,1060) -- (55,1060) -- (55,953) -- (jfdavis.west |- 0,953);
\yc{hewett.west}{25}{1180}
\yc{kallel.west}{25}{1295}
\yc{gasparim.west}{25}{1405}
\yc{overton.west}{25}{1495}
\stm{rl}{226}{502}{677}
\rc{morita.east}{226}{562}
\rc{song.west}{226}{540}
\rc{karaca.east}{226}{648}
\rc{yang.west}{226}{625}
\stm{rl}{232}{997}{1093}
\rc{pearson.east}{232}{1062}
\rc{thomas.west}{232}{1048}
\gc{fadlalla.west}{784}{377}
\gc{fischer.west}{784}{541}
\gc{richberg.west}{784}{865}
\gc{denneberg.west}{784}{1072}
\gc{hund.west}{784}{1320}
\gc{kowitz.east}{784}{1530}
\stm{yl}{1349}{209}{423}
\yc{klein.east}{1349}{292}
\yc{hbmeyer.west}{1349}{262}
\yc{hildebrand.west}{1349}{405}
\stm{rl}{1412}{422}{503}
\rc{gred.west}{1412}{470}
\stm{yl}{1073}{592}{700}
\yc{kriete.east}{1073}{650}
\yc{hattrup.east}{1532}{708}
\yc{jmichel.east}{1532}{824}
\yc{broecker.east}{1532}{941}
\yc{bertrams.east}{1532}{1056}
\yc{henkelmann.east}{1532}{1164}
\yc{strauss.east}{1532}{1265}
\yc{lma.east}{1532}{1380}
\yc{imichels.east}{1532}{1497}
\end{cpp}
% crop F
\begin{cpp}{1170}{560}{\XC}{\YA}
\yc{schulden.east}{1532}{58}
\yc{schaal.east}{1532}{180}
\stm{yl}{398}{129}{333}
\yc{contreras.east}{398}{192}
\yc{tovar.east}{398}{291}
\stm{gl}{135}{487}{630}
\gc{auderset.west}{135}{564}
\gc{spindler.east}{784}{733}
\stm{yl}{402}{758}{868}
\yc{lo.east}{402}{833}
\draw[gl] (peternell.east |- 0,902) -- (505,902) -- (505,1005) -- (784,1005);
\yc{muellerstach.west}{254}{1040}
\yc{pfischer.west}{254}{1152}
\yc{poehlmann.west}{254}{1268}
\yc{kuechle.west}{254}{1405}
\yc{steffens.west}{254}{1507}
\gc{pflug.east}{784}{133}
\gc{vormoor.east}{784}{273}
\gc{muelich.east}{784}{408}
\gc{commichau.east}{784}{545}
\gc{lichte.east}{784}{672}
\gc{riebesehl.east}{784}{810}
\gc{vsteinbiss.east}{784}{1100}
\gc{dethloff.east}{784}{1240}
\gc{toda.east}{784}{1378}
\gc{tuexen.east}{784}{1510}
\gc{narasimhan.west}{784}{93}
\gc{braun.west}{784}{228}
\gc{schnittker.west}{784}{361}
\gc{skirde.west}{784}{497}
\gc{fritzsche.west}{784}{630}
\gc{leykum.west}{784}{787}
\gc{hoppe.west}{784}{945}
\gc{mpeternell.west}{784}{1058}
\gc{isteinbiss.west}{784}{1200}
\gc{siebert.west}{784}{1332}
\gc{herbers.west}{784}{1467}
\yc{blickensdoerfer.east}{1541}{415}
\yc{hortmann.east}{1541}{533}
\yc{riemer.east}{1541}{650}
\yc{shirra.east}{1541}{765}
\yc{boehmer.east}{1541}{875}
\yc{glansmann.east}{1541}{980}
\yc{decker.east}{1541}{1052}
\stm{rl}{1348}{1094}{1200}
\rc{popescu.west}{1348}{1162}
\yc{kallenborn.east}{1541}{1256}
\yc{voellinger.east}{1541}{1367}
\yc{rippel.east}{1541}{1488}
\end{cpp}
% crop I
\begin{cpp}{1170}{1120}{\XC}{\YA}
\yc{freitag.west}{254}{70}
\yc{schaefer.west}{254}{195}
\gc{armbruester.west}{784}{58}
\yc{nuessler.east}{1541}{45}
\stm{yl}{1546}{222}{522}
\yc{dichtl.east}{1546}{288}
\yc{dietz.east}{1546}{385}
\yc{gensheimer.east}{1546}{490}
\stm{yl}{647}{261}{608}
\yc{behrens.east}{647}{341}
\yc{herbort.west}{647}{312}
\yc{rapp.east}{647}{460}
\yc{schwarz.west}{647}{430}
\yc{schreiber.east}{647}{575}
\yc{vajaitu.west}{647}{545}
\stm{yl}{1006}{396}{730}
\yc{meister.west}{1006}{447}
\yc{lappe.west}{1006}{548}
\yc{schwab.west}{1006}{662}
\stm{yl}{828}{727}{1207}
\yc{molzan.east}{828}{808}
\yc{backes.west}{828}{795}
\yc{berndt.east}{828}{925}
\yc{meumertz.west}{828}{895}
\yc{noelker.east}{828}{1040}
\yc{klingenberg.west}{828}{1010}
\yc{boening.east}{828}{1157}
\yc{nuebel.west}{828}{1125}
\stm{yl}{1333}{725}{1197}
\yc{behnke.east}{1333}{805}
\yc{petow.west}{1333}{778}
\yc{woehrmann.east}{1333}{922}
\yc{arndt.west}{1333}{895}
\yc{behrmann.east}{1333}{1039}
\yc{wunram.west}{1333}{1012}
\yc{drewes.east}{1333}{1155}
\yc{roehr.west}{1333}{1127}
\stm{gl}{264}{763}{1312}
\gc{aguade.west}{264}{855}
\gc{navarro.east}{264}{936}
\gc{segura.east}{264}{1070}
\gc{casacuberta.east}{264}{1188}
\stm{yl}{218}{1238}{1333}
\yc{rodriguez.east}{218}{1300}
\stm{yl}{516}{889}{1325}
\yc{broto.east}{516}{963}
\yc{saumell.east}{516}{1164}
\yc{msantos.east}{516}{1272}
\stm{rl}{339}{1003}{1105}
\rc{viruel.west}{339}{1062}
\draw[yl] (arlettaz.east |- 0,65) -- (133,65) -- (133,430);
\yc{scherer.west}{133}{308}
\yc{tischler.west}{133}{390}
\end{cpp}
% crop L
\begin{cpp}{1170}{1680}{\XC}{\YD}
\gc{sax.west}{-10.5}{101}
\gc{schmock.west}{-10.5}{227}
\gc{koenig.west}{-10.5}{354}
\stm{gl}{210}{905}{1048}
\gc{unseld.west}{210}{984}
\end{cpp}
\end{scope}
\end{tikzpicture}
\end{document}
